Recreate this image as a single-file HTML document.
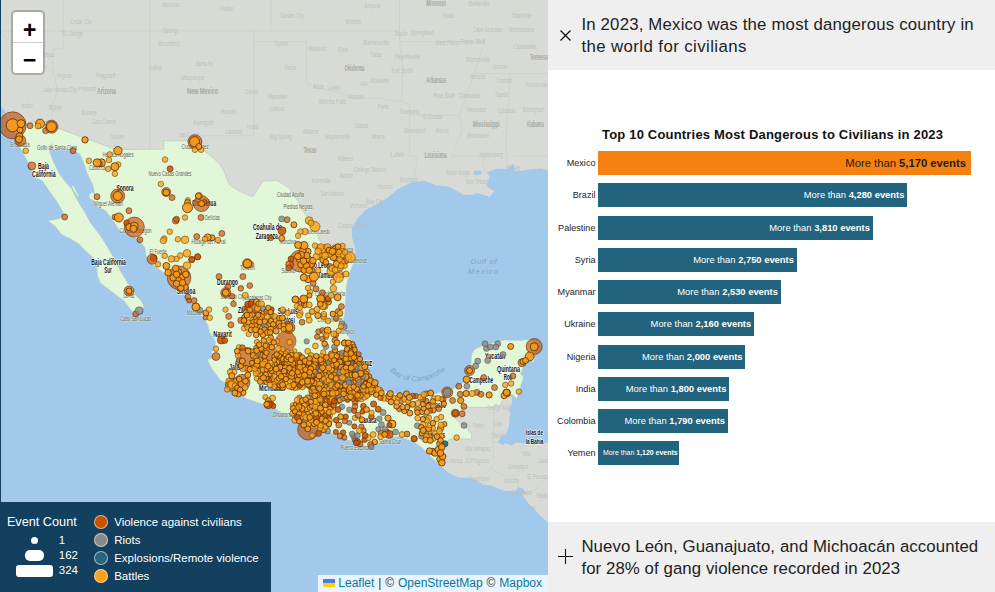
<!DOCTYPE html>
<html lang="en"><head><meta charset="utf-8"><title>Mexico – Conflict Index</title>
<style>
*{box-sizing:border-box;margin:0;padding:0}
html,body{width:995px;height:592px;overflow:hidden;background:#fff;font-family:"Liberation Sans",sans-serif}
#map{position:absolute;left:0;top:0;width:548px;height:592px;background:#a2c8ec;overflow:hidden}
#map svg{position:absolute;left:0;top:0}
#map svg text{font-family:"Liberation Sans",sans-serif}
#map .s{font-weight:bold;fill:#111;stroke:#fff;stroke-opacity:.75;stroke-width:1.6px;paint-order:stroke;stroke-linejoin:round}
#map .u{font-weight:bold;fill:#a4a8a4}
#map .c{fill:#59605a;stroke:#eefbe8;stroke-opacity:.6;stroke-width:1.2px;paint-order:stroke}
#map .f{fill:#bcc0bb}
#map .w{font-style:italic;fill:#86a1c2}
#map circle{stroke-width:.8}
.dv{fill:#c85200;fill-opacity:.66;stroke:#5a2606;stroke-opacity:.72}
.dw{fill:#c85200;fill-opacity:.7;stroke:#6a3410;stroke-opacity:.6}
.dV{fill:#c85200;fill-opacity:.85;stroke:#5a2400;stroke-opacity:.75}
.dr{fill:#8a8a8a;fill-opacity:.8;stroke:#3c3c3c;stroke-opacity:.55}
.de{fill:#1f6480;fill-opacity:.9;stroke:#0c3c50;stroke-opacity:.8}
.dl{fill:#f9a620;fill-opacity:.82;stroke:#6a3f06;stroke-opacity:.72}
.db{fill:#f69a1a;fill-opacity:.93;stroke:#452500;stroke-opacity:.92}
.edge{position:absolute;left:0;top:0;width:1px;height:592px;background:#13405f}
.zoom{position:absolute;left:10.7px;top:10px;width:34px;height:65px;border:2px solid rgba(0,0,0,.22);border-radius:5px;background:#fff;background-clip:padding-box}
.zoom a{display:block;width:30px;height:30px;text-align:center;font:bold 23px/30px "Liberation Mono",monospace;color:#000;text-decoration:none;padding-top:5px;text-indent:4px;overflow:visible}
.zoom a:last-child{padding-top:4px}
.zoom a:first-child{height:31px;border-bottom:1px solid #ccc;border-radius:3px 3px 0 0}
.attr{position:absolute;right:0;bottom:0;height:17px;line-height:17px;padding:0 6px 0 5px;background:rgba(255,255,255,.8);font-size:12px;color:#333;white-space:nowrap;word-spacing:.55px}
.attr a{color:#0078a8;text-decoration:none}
.attr svg{position:static!important;display:inline;width:12px;height:8px;vertical-align:baseline;margin-right:3.4px}
.legend{position:absolute;left:0;top:502px;width:271px;height:90px;background:#13405f;color:#fff;font-size:12px}
.legend .t{position:absolute;left:6.9px;top:13px;font-size:12.7px;line-height:15px}
.legend .n{position:absolute;left:58.8px;font-size:11.5px;line-height:14px}
.legend .w{position:absolute;background:#fff}
.legend .c{position:absolute;left:94px;width:14px;height:14px;border-radius:50%;border:1px solid rgba(255,255,255,.55)}
.legend .l{position:absolute;left:114.2px;font-size:11.5px;line-height:14px;white-space:nowrap}
#side{position:absolute;left:548px;top:0;width:447px;height:592px;background:#fff}
.hd{position:absolute;left:0;width:447px;height:70px;background:#efefef;color:#222;font-size:16.8px;line-height:22px}
.hd p{position:absolute;left:33.4px;top:14px;width:410px;white-space:nowrap}
.hd svg{position:absolute}
#chart{position:absolute;left:0;top:70px;width:447px;height:452px}
#chart h3{position:absolute;left:0;top:56.7px;width:447px;font-size:13px;line-height:16px;font-weight:bold;color:#111;white-space:nowrap;letter-spacing:.19px}
#chart h3 span{position:absolute;left:54px}
.row{position:absolute;left:0;height:24px;width:447px}
.cn{position:absolute;right:399.5px;top:0;line-height:24px;font-size:9.1px;color:#222;white-space:nowrap}
.bar{position:absolute;left:50px;top:0;height:24px;background:#22637d;color:#fff;font-size:9.4px;line-height:24px;text-align:right;white-space:nowrap}
.bar.hl{background:#f58210;color:#1b1b1b;font-size:11.25px}
.bar.sm{font-size:6.98px}
.bar.sm .bl{right:1.3px}
.bl{position:absolute;right:2.6px;top:0}
.bar.hl .bl{right:5px}
</style></head><body>
<div id="map">
<svg width="548" height="592" viewBox="0 0 548 592">
<path d="M-22.3 -24.3 L-22.3 105.0 L-0.6 105.0 L4.6 110.2 L7.5 118.4 L10.1 124.8 L10.1 124.8 L29.8 123.4 L51.8 121.1 L50.1 125.2 L76.4 135.0 L115.8 149.5 L150.1 149.3 L163.9 149.3 L163.9 140.9 L193.8 140.9 L200.2 148.0 L209.0 154.5 L219.3 163.4 L225.0 173.8 L229.3 184.8 L238.3 190.7 L252.6 196.7 L263.5 181.0 L277.7 180.6 L289.8 188.6 L298.5 202.0 L304.5 213.6 L314.8 224.8 L318.6 238.4 L323.4 247.5 L336.9 253.5 L349.2 257.7 L355.9 257.1 L355.9 257.1 L354.9 246.9 L351.9 237.2 L351.9 228.5 L356.6 219.7 L365.3 209.9 L375.6 205.0 L387.8 197.5 L397.3 189.6 L410.2 182.8 L412.8 182.2 L424.1 180.8 L436.2 185.2 L448.3 186.2 L457.0 191.1 L463.9 195.1 L472.5 194.5 L477.7 193.1 L489.8 197.1 L494.2 191.1 L486.4 186.2 L489.8 176.2 L486.4 172.6 L496.7 168.8 L507.1 168.8 L513.2 163.2 L514.9 171.2 L522.7 170.6 L531.3 169.2 L540.0 168.6 L548.6 170.2 L565.9 176.2 L565.9 -24.3Z" fill="#d8dbd5"/>
<path d="M508.9 394.9 L512.3 397.7 L512.0 402.6 L509.0 410.6 L510.6 413.3 L508.9 419.8 L509.9 421.5 L507.8 430.7 L504.5 435.4 L501.4 436.1 L498.0 442.2 L503.7 445.4 L505.1 442.7 L510.1 445.1 L512.0 445.8 L515.8 442.7 L520.6 442.4 L522.4 443.8 L524.9 442.9 L533.1 444.5 L541.0 444.2 L546.6 442.2 L557.3 441.1 L557.3 529.2 L547.6 522.2 L539.5 514.9 L533.4 508.0 L528.4 503.4 L521.7 493.8 L525.8 494.2 L522.9 488.5 L517.7 487.1 L515.8 491.2 L505.7 491.0 L499.5 489.2 L492.2 485.7 L482.7 484.6 L477.7 480.7 L468.9 477.7 L458.2 477.3 L450.2 473.7 L440.9 466.4 L440.9 466.4 L441.4 461.2 L443.3 457.1 L440.9 453.7 L449.2 439.0 L471.5 439.0 L471.8 432.8 L469.1 431.8 L467.2 427.8 L460.8 423.6 L454.4 417.7 L462.1 417.7 L462.1 407.3 L478.2 407.3 L494.3 407.5 L494.2 404.8 L496.2 404.0 L499.3 406.2 L505.6 395.1 L508.9 394.9Z" fill="#d8dbd5"/>
<path d="M355.9 257.1 L349.2 274.0 L346.2 287.7 L344.9 313.0 L343.3 322.2 L346.2 332.2 L351.6 341.4 L355.1 355.6 L366.5 369.5 L370.6 379.9 L377.4 388.9 L395.7 393.8 L402.8 401.5 L418.0 396.4 L431.2 394.6 L444.2 391.3 L455.1 388.0 L466.1 380.7 L470.3 369.8 L471.7 354.3 L474.6 349.0 L486.4 344.2 L504.7 339.9 L519.9 340.4 L530.5 339.0 L534.6 342.9 L533.9 351.8 L524.8 362.7 L520.6 373.9 L523.7 377.2 L521.1 385.1 L516.8 399.3 L512.5 394.6 L508.9 394.9 L505.6 395.1 L499.3 406.2 L496.2 404.0 L494.2 404.8 L494.3 407.5 L478.2 407.3 L462.1 407.3 L462.1 417.7 L454.4 417.7 L460.8 423.6 L467.2 427.8 L469.1 431.8 L471.8 432.8 L471.5 439.0 L449.2 439.0 L440.9 453.7 L443.3 457.1 L441.4 461.2 L440.9 466.4 L421.3 447.1 L412.3 441.3 L398.3 436.6 L388.6 437.9 L374.8 444.7 L366.0 446.5 L353.8 441.7 L340.9 438.2 L324.6 430.0 L311.6 427.4 L292.1 419.1 L277.6 410.4 L273.2 405.5 L263.5 404.4 L245.9 398.8 L238.6 390.4 L220.1 379.9 L211.5 368.4 L207.3 359.5 L213.0 357.7 L211.3 352.3 L215.3 347.5 L215.3 341.2 L209.6 332.8 L208.0 325.3 L202.1 316.0 L186.9 297.1 L169.4 282.4 L164.4 273.3 L156.6 267.5 L150.8 263.6 L146.0 255.8 L145.0 248.0 L139.1 240.3 L128.0 234.0 L118.9 230.0 L115.2 224.0 L111.5 218.5 L105.9 211.0 L98.5 207.3 L92.9 199.9 L94.7 194.3 L92.9 185.0 L87.3 173.9 L83.6 162.7 L79.9 154.4 L74.3 150.7 L61.3 147.9 L53.5 149.2 L51.5 143.5 L49.8 149.5 L50.2 153.4 L53.9 162.7 L59.4 173.9 L65.0 181.3 L71.5 188.7 L76.2 198.0 L81.7 207.3 L87.3 216.6 L90.5 222.8 L96.4 230.5 L102.2 238.3 L108.0 248.0 L113.8 257.8 L117.7 265.5 L121.6 273.3 L125.5 279.1 L127.5 283.0 L133.3 288.8 L135.2 294.7 L141.0 300.5 L144.0 306.3 L141.0 312.2 L135.2 315.1 L131.3 310.2 L123.6 300.5 L115.8 294.7 L108.0 288.8 L100.2 283.0 L97.3 275.2 L96.4 265.5 L94.4 258.7 L86.6 251.9 L78.9 244.1 L71.1 239.3 L61.4 234.4 L55.5 226.7 L47.8 220.8 L59.4 218.5 L64.1 214.7 L61.3 209.2 L55.7 199.9 L50.2 192.5 L42.7 181.3 L35.3 177.6 L30.5 167.9 L24.5 155.8 L16.7 141.5 L18.9 138.8 L11.3 128.5 L10.1 124.8 L29.8 123.4 L51.8 121.1 L50.1 125.2 L76.4 135.0 L115.8 149.5 L150.1 149.3 L163.9 149.3 L163.9 140.9 L193.8 140.9 L200.2 148.0 L209.0 154.5 L219.3 163.4 L225.0 173.8 L229.3 184.8 L238.3 190.7 L252.6 196.7 L263.5 181.0 L277.7 180.6 L289.8 188.6 L298.5 202.0 L304.5 213.6 L314.8 224.8 L318.6 238.4 L323.4 247.5 L336.9 253.5 L349.2 257.7 L355.9 257.1Z" fill="#e2f6d8" stroke="#b9c7bd" stroke-width="0.6"/><path d="M71.5 185.0 L73.8 186.2 L78.4 195.1 L79.5 196.5 L77.2 195.7 L72.9 189.2Z" fill="#e2f6d8" stroke="#b9c7bd" stroke-width=".5"/><path d="M88.8 195.1 L92.8 191.7 L95.4 196.5 L94.0 200.6 L89.9 199.1Z" fill="#e2f6d8" stroke="#b9c7bd" stroke-width=".5"/><path d="M531.7 357.3 L535.8 357.1 L533.4 361.9 L531.0 362.3Z" fill="#e2f6d8" stroke="#b9c7bd" stroke-width=".5"/><path d="M447.8 392.2 L452.6 389.8 L453.5 390.9 L448.3 393.1Z" fill="#e2f6d8" stroke="#b9c7bd" stroke-width=".5"/>
<path d="M0.0 30.8 L399.5 30.8 M149.9 0.0 L149.9 149.5 M253.9 30.8 L253.9 135.8 L191.9 135.8 M254.5 41.6 L306.4 41.6 L306.4 82.9 L320.3 88.3 L339.3 92.5 L354.9 98.8 L375.6 97.7 L401.9 102.1 L409.6 103.9 M399.5 0.0 L399.5 41.6 L402.8 65.1 L401.9 102.1 M409.6 103.9 L409.6 156.1 L418.0 156.1 L415.4 170.2 L412.8 182.2 M409.6 115.3 L459.2 115.3 M484.6 41.6 L474.3 73.6 L459.2 115.3 L462.1 129.7 L451.8 156.1 L484.1 156.1 L482.9 164.2 L486.4 172.6 M399.5 41.6 L484.6 41.6 M474.3 73.6 L565.9 73.6 M510.6 73.6 L505.9 137.9 L507.1 168.8 M514.0 156.1 L565.9 156.1 M63.4 0.0 L63.4 30.8 L63.4 48.1 L52.1 50.2 L53.9 73.6 L57.3 90.4 L52.1 107.1 L51.8 121.1 M0.0 33.0 L53.9 73.6 M271.0 0.0 L271.0 30.8 M494.2 407.5 L492.9 442.0 L498.0 442.2 M492.9 442.0 L494.2 463.5 L490.7 468.6 L477.7 480.7 M490.7 468.6 L505.4 476.4 L518.9 480.0 L517.7 487.1 M525.8 494.2 L536.5 488.5 L546.9 477.8 L565.9 465.3" fill="none" stroke="#cacec9" stroke-width=".7"/>
<ellipse cx="477.3" cy="172.8" rx="4.2" ry="2.2" fill="#a2c8ec"/>
<text class="s" x="38.0" y="168.5" font-size="8.5" textLength="11" lengthAdjust="spacingAndGlyphs">Baja</text>
<text class="s" x="32.0" y="176.8" font-size="8.5" textLength="23.5" lengthAdjust="spacingAndGlyphs">California</text>
<text class="s" x="116.5" y="191.2" font-size="8.5" textLength="17" lengthAdjust="spacingAndGlyphs">Sonora</text>
<text class="s" x="192.0" y="206.0" font-size="8.5" textLength="24" lengthAdjust="spacingAndGlyphs">Chihuahua</text>
<text class="s" x="252.9" y="230.3" font-size="8.5" textLength="29" lengthAdjust="spacingAndGlyphs">Coahuila de</text>
<text class="s" x="255.8" y="238.5" font-size="8.5" textLength="22" lengthAdjust="spacingAndGlyphs">Zaragoza</text>
<text class="s" x="217.0" y="285.0" font-size="8.5" textLength="21" lengthAdjust="spacingAndGlyphs">Durango</text>
<text class="s" x="91.3" y="264.7" font-size="8.5" textLength="34.5" lengthAdjust="spacingAndGlyphs">Baja California</text>
<text class="s" x="104.2" y="272.5" font-size="8.5" textLength="7.5" lengthAdjust="spacingAndGlyphs">Sur</text>
<text class="s" x="213.3" y="337.0" font-size="8.5" textLength="18.5" lengthAdjust="spacingAndGlyphs">Nayarit</text>
<text class="s" x="238.0" y="313.0" font-size="8.5" textLength="24" lengthAdjust="spacingAndGlyphs">Zacatecas</text>
<text class="s" x="277.8" y="314.0" font-size="8.5" textLength="20" lengthAdjust="spacingAndGlyphs">San Luis</text>
<text class="s" x="280.7" y="322.5" font-size="8.5" textLength="14" lengthAdjust="spacingAndGlyphs">Potosí</text>
<text class="s" x="302.5" y="268.0" font-size="8.5" textLength="27" lengthAdjust="spacingAndGlyphs">Nuevo León</text>
<text class="s" x="318.0" y="278.0" font-size="8.5" textLength="26" lengthAdjust="spacingAndGlyphs">Tamaulipas</text>
<text class="s" x="485.0" y="359.3" font-size="8.5" textLength="20" lengthAdjust="spacingAndGlyphs">Yucatán</text>
<text class="s" x="497.0" y="371.5" font-size="8.5" textLength="23" lengthAdjust="spacingAndGlyphs">Quintana</text>
<text class="s" x="503.8" y="379.8" font-size="8.5" textLength="8.5" lengthAdjust="spacingAndGlyphs">Roo</text>
<text class="s" x="469.6" y="383.0" font-size="8.5" textLength="23.5" lengthAdjust="spacingAndGlyphs">Campeche</text>
<text class="s" x="427.0" y="408.0" font-size="8.5" textLength="19" lengthAdjust="spacingAndGlyphs">Tabasco</text>
<text class="s" x="427.0" y="438.0" font-size="8.5" textLength="18" lengthAdjust="spacingAndGlyphs">Chiapas</text>
<text class="s" x="351.0" y="365.7" font-size="8.5" textLength="21" lengthAdjust="spacingAndGlyphs">Veracruz</text>
<text class="s" x="359.5" y="422.6" font-size="8.5" textLength="17" lengthAdjust="spacingAndGlyphs">Oaxaca</text>
<text class="s" x="259.0" y="390.6" font-size="8.5" textLength="26" lengthAdjust="spacingAndGlyphs">Michoacán</text>
<text class="s" x="229.0" y="369.6" font-size="8.5" textLength="18" lengthAdjust="spacingAndGlyphs">Jalisco</text>
<text class="s" x="176.8" y="294.1" font-size="8.5" textLength="18.5" lengthAdjust="spacingAndGlyphs">Sinaloa</text>
<text class="s" x="526.0" y="434.5" font-size="7.8" textLength="17" lengthAdjust="spacingAndGlyphs">Islas de</text>
<text class="s" x="525.8" y="443.5" font-size="7.8" textLength="17.5" lengthAdjust="spacingAndGlyphs">la Bahía</text>
<text class="u" x="97.0" y="94.0" font-size="8.5" textLength="19" lengthAdjust="spacingAndGlyphs">Arizona</text>
<text class="u" x="187.0" y="94.0" font-size="8.5" textLength="31" lengthAdjust="spacingAndGlyphs">New Mexico</text>
<text class="c" x="10.5" y="146.5" font-size="7.5" textLength="19" lengthAdjust="spacingAndGlyphs">Ensenada</text>
<text class="c" x="37.0" y="150.0" font-size="7.5" textLength="40" lengthAdjust="spacingAndGlyphs">Golfo de Santa Clara</text>
<text class="c" x="102.5" y="157.0" font-size="7.5" textLength="31" lengthAdjust="spacingAndGlyphs">Heroica Nogales</text>
<text class="c" x="89.0" y="170.0" font-size="7.5" textLength="16" lengthAdjust="spacingAndGlyphs">Caborca</text>
<text class="c" x="94.0" y="206.0" font-size="7.5" textLength="29" lengthAdjust="spacingAndGlyphs">Miguel Alemán</text>
<text class="c" x="119.5" y="233.0" font-size="7.5" textLength="32" lengthAdjust="spacingAndGlyphs">Ciudad Obregón</text>
<text class="c" x="149.5" y="253.5" font-size="7.5" textLength="17" lengthAdjust="spacingAndGlyphs">El Fuerte</text>
<text class="c" x="120.3" y="321.0" font-size="7.5" textLength="31" lengthAdjust="spacingAndGlyphs">Cabo San Lucas</text>
<text class="c" x="187.0" y="314.5" font-size="7.5" textLength="16" lengthAdjust="spacingAndGlyphs">Mazatlán</text>
<text class="c" x="221.0" y="299.0" font-size="7.5" textLength="24" lengthAdjust="spacingAndGlyphs">Durango City</text>
<text class="c" x="148.5" y="175.5" font-size="7.5" textLength="43" lengthAdjust="spacingAndGlyphs">Nuevo Casas Grandes</text>
<text class="c" x="181.5" y="149.0" font-size="7.5" textLength="27" lengthAdjust="spacingAndGlyphs">Ciudad Juárez</text>
<text class="c" x="205.0" y="219.5" font-size="7.5" textLength="15" lengthAdjust="spacingAndGlyphs">Delicias</text>
<text class="c" x="191.5" y="244.0" font-size="7.5" textLength="34" lengthAdjust="spacingAndGlyphs">Hidalgo del Parral</text>
<text class="c" x="277.0" y="197.0" font-size="7.5" textLength="27" lengthAdjust="spacingAndGlyphs">Ciudad Acuña</text>
<text class="c" x="283.5" y="209.0" font-size="7.5" textLength="29" lengthAdjust="spacingAndGlyphs">Piedras Negras</text>
<text class="c" x="240.0" y="270.0" font-size="7.5" textLength="15" lengthAdjust="spacingAndGlyphs">Torreón</text>
<text class="c" x="281.5" y="273.0" font-size="7.5" textLength="14" lengthAdjust="spacingAndGlyphs">Saltillo</text>
<text class="c" x="279.5" y="244.0" font-size="7.5" textLength="17" lengthAdjust="spacingAndGlyphs">Monclova</text>
<text class="c" x="339.5" y="333.5" font-size="7.5" textLength="15" lengthAdjust="spacingAndGlyphs">Tampico</text>
<text class="c" x="317.5" y="322.0" font-size="7.5" textLength="25" lengthAdjust="spacingAndGlyphs">Ciudad Mante</text>
<text class="c" x="272.5" y="416.5" font-size="7.5" textLength="23" lengthAdjust="spacingAndGlyphs">Zihuatanejo</text>
<text class="c" x="340.5" y="449.5" font-size="7.5" textLength="34" lengthAdjust="spacingAndGlyphs">Puerto Escondido</text>
<text class="c" x="379.0" y="443.5" font-size="7.5" textLength="22" lengthAdjust="spacingAndGlyphs">Salina Cruz</text>
<text class="c" x="244.5" y="300.0" font-size="7.5" textLength="27" lengthAdjust="spacingAndGlyphs">Zacatecas City</text>
<text class="c" x="337.0" y="252.0" font-size="7.5" textLength="16" lengthAdjust="spacingAndGlyphs">Reynosa</text>
<text class="c" x="347.0" y="263.0" font-size="7.5" textLength="20" lengthAdjust="spacingAndGlyphs">Matamoros</text>
<text class="c" x="315.0" y="296.0" font-size="7.5" textLength="30" lengthAdjust="spacingAndGlyphs">Ciudad Victoria</text>
<text class="c" x="123.5" y="298.0" font-size="7.5" textLength="11" lengthAdjust="spacingAndGlyphs">La Paz</text>
<text class="c" x="306.0" y="233.6" font-size="7.5" textLength="24" lengthAdjust="spacingAndGlyphs">Nuevo Laredo</text>
<text class="u" x="344.6" y="70.8" font-size="8.5" textLength="19.8" lengthAdjust="spacingAndGlyphs">Oklahoma</text>
<text class="u" x="426.3" y="82.6" font-size="8.5" textLength="19.8" lengthAdjust="spacingAndGlyphs">Arkansas</text>
<text class="u" x="426.3" y="6.0" font-size="8.5" textLength="19.8" lengthAdjust="spacingAndGlyphs">Missouri</text>
<text class="u" x="303.5" y="153.3" font-size="8.5" textLength="12.8" lengthAdjust="spacingAndGlyphs">Texas</text>
<text class="u" x="424.4" y="158.3" font-size="8.5" textLength="22.2" lengthAdjust="spacingAndGlyphs">Louisiana</text>
<text class="u" x="472.8" y="126.9" font-size="8.5" textLength="26.9" lengthAdjust="spacingAndGlyphs">Mississippi</text>
<text class="u" x="526.5" y="126.6" font-size="8.5" textLength="17.4" lengthAdjust="spacingAndGlyphs">Alabama</text>
<text class="u" x="529.9" y="60.0" font-size="8.5" textLength="22.2" lengthAdjust="spacingAndGlyphs">Tennessee</text>
<text class="f" x="280.2" y="17.8" font-size="7.5" textLength="23.5" lengthAdjust="spacingAndGlyphs">Garden City</text>
<text class="f" x="345.2" y="23.9" font-size="7.5" textLength="15.3" lengthAdjust="spacingAndGlyphs">Wichita</text>
<text class="f" x="364.8" y="8.3" font-size="7.5" textLength="15.3" lengthAdjust="spacingAndGlyphs">Emporia</text>
<text class="f" x="394.4" y="36.4" font-size="7.5" textLength="13.3" lengthAdjust="spacingAndGlyphs">Joplin</text>
<text class="f" x="410.2" y="34.6" font-size="7.5" textLength="23.5" lengthAdjust="spacingAndGlyphs">Springfield</text>
<text class="f" x="442.8" y="17.8" font-size="7.5" textLength="11.2" lengthAdjust="spacingAndGlyphs">Rolla</text>
<text class="f" x="473.0" y="32.3" font-size="7.5" textLength="29.7" lengthAdjust="spacingAndGlyphs">Cape Girardeau</text>
<text class="f" x="435.6" y="44.8" font-size="7.5" textLength="23.5" lengthAdjust="spacingAndGlyphs">West Plains</text>
<text class="f" x="459.9" y="44.2" font-size="7.5" textLength="25.6" lengthAdjust="spacingAndGlyphs">Poplar Bluff</text>
<text class="f" x="363.6" y="44.8" font-size="7.5" textLength="25.6" lengthAdjust="spacingAndGlyphs">Bartlesville</text>
<text class="f" x="274.4" y="45.8" font-size="7.5" textLength="13.3" lengthAdjust="spacingAndGlyphs">Guymon</text>
<text class="f" x="308.6" y="50.9" font-size="7.5" textLength="17.4" lengthAdjust="spacingAndGlyphs">Woodward</text>
<text class="f" x="338.0" y="51.6" font-size="7.5" textLength="9.2" lengthAdjust="spacingAndGlyphs">Enid</text>
<text class="f" x="370.1" y="56.6" font-size="7.5" textLength="11.2" lengthAdjust="spacingAndGlyphs">Tulsa</text>
<text class="f" x="394.7" y="59.0" font-size="7.5" textLength="25.6" lengthAdjust="spacingAndGlyphs">Fayetteville</text>
<text class="f" x="391.6" y="73.2" font-size="7.5" textLength="21.5" lengthAdjust="spacingAndGlyphs">Fort Smith</text>
<text class="f" x="284.7" y="70.2" font-size="7.5" textLength="11.2" lengthAdjust="spacingAndGlyphs">Pampa</text>
<text class="f" x="370.1" y="83.0" font-size="7.5" textLength="19.4" lengthAdjust="spacingAndGlyphs">McAlester</text>
<text class="f" x="360.3" y="86.0" font-size="7.5" textLength="7.1" lengthAdjust="spacingAndGlyphs">Ada</text>
<text class="f" x="312.7" y="89.4" font-size="7.5" textLength="11.2" lengthAdjust="spacingAndGlyphs">Altus</text>
<text class="f" x="327.6" y="89.8" font-size="7.5" textLength="13.3" lengthAdjust="spacingAndGlyphs">Lawton</text>
<text class="f" x="348.5" y="98.9" font-size="7.5" textLength="15.3" lengthAdjust="spacingAndGlyphs">Ardmore</text>
<text class="f" x="318.7" y="104.0" font-size="7.5" textLength="27.6" lengthAdjust="spacingAndGlyphs">Wichita Falls</text>
<text class="f" x="377.6" y="109.0" font-size="7.5" textLength="11.2" lengthAdjust="spacingAndGlyphs">Paris</text>
<text class="f" x="399.5" y="114.1" font-size="7.5" textLength="19.4" lengthAdjust="spacingAndGlyphs">Texarkana</text>
<text class="f" x="423.1" y="119.2" font-size="7.5" textLength="19.4" lengthAdjust="spacingAndGlyphs">El Dorado</text>
<text class="f" x="433.2" y="97.9" font-size="7.5" textLength="21.5" lengthAdjust="spacingAndGlyphs">Pine Bluff</text>
<text class="f" x="470.2" y="78.6" font-size="7.5" textLength="15.3" lengthAdjust="spacingAndGlyphs">Memphis</text>
<text class="f" x="492.1" y="68.5" font-size="7.5" textLength="15.3" lengthAdjust="spacingAndGlyphs">Jackson</text>
<text class="f" x="458.6" y="98.2" font-size="7.5" textLength="21.5" lengthAdjust="spacingAndGlyphs">Clarksdale</text>
<text class="f" x="466.4" y="112.4" font-size="7.5" textLength="19.4" lengthAdjust="spacingAndGlyphs">Greenwood</text>
<text class="f" x="494.8" y="97.2" font-size="7.5" textLength="13.3" lengthAdjust="spacingAndGlyphs">Tupelo</text>
<text class="f" x="497.8" y="113.1" font-size="7.5" textLength="17.4" lengthAdjust="spacingAndGlyphs">Columbus</text>
<text class="f" x="522.8" y="112.4" font-size="7.5" textLength="21.5" lengthAdjust="spacingAndGlyphs">Birmingham</text>
<text class="f" x="526.1" y="87.1" font-size="7.5" textLength="21.5" lengthAdjust="spacingAndGlyphs">Huntsville</text>
<text class="f" x="496.5" y="83.0" font-size="7.5" textLength="15.3" lengthAdjust="spacingAndGlyphs">Corinth</text>
<text class="f" x="355.2" y="127.6" font-size="7.5" textLength="13.3" lengthAdjust="spacingAndGlyphs">Dallas</text>
<text class="f" x="302.9" y="134.4" font-size="7.5" textLength="15.3" lengthAdjust="spacingAndGlyphs">Abilene</text>
<text class="f" x="270.1" y="138.7" font-size="7.5" textLength="21.5" lengthAdjust="spacingAndGlyphs">Big Spring</text>
<text class="f" x="324.8" y="139.4" font-size="7.5" textLength="25.6" lengthAdjust="spacingAndGlyphs">Stephenville</text>
<text class="f" x="371.5" y="139.4" font-size="7.5" textLength="13.3" lengthAdjust="spacingAndGlyphs">Athens</text>
<text class="f" x="403.9" y="132.6" font-size="7.5" textLength="21.5" lengthAdjust="spacingAndGlyphs">Shreveport</text>
<text class="f" x="435.7" y="132.6" font-size="7.5" textLength="13.3" lengthAdjust="spacingAndGlyphs">Monroe</text>
<text class="f" x="467.2" y="138.4" font-size="7.5" textLength="21.5" lengthAdjust="spacingAndGlyphs">Brookhaven</text>
<text class="f" x="390.8" y="157.0" font-size="7.5" textLength="13.3" lengthAdjust="spacingAndGlyphs">Lufkin</text>
<text class="f" x="337.7" y="161.4" font-size="7.5" textLength="15.3" lengthAdjust="spacingAndGlyphs">Killeen</text>
<text class="f" x="353.8" y="171.5" font-size="7.5" textLength="31.7" lengthAdjust="spacingAndGlyphs">College Station</text>
<text class="f" x="339.4" y="178.3" font-size="7.5" textLength="13.3" lengthAdjust="spacingAndGlyphs">Austin</text>
<text class="f" x="311.7" y="183.3" font-size="7.5" textLength="19.4" lengthAdjust="spacingAndGlyphs">Kerrville</text>
<text class="f" x="399.8" y="181.6" font-size="7.5" textLength="17.4" lengthAdjust="spacingAndGlyphs">Beaumont</text>
<text class="f" x="377.2" y="189.1" font-size="7.5" textLength="15.3" lengthAdjust="spacingAndGlyphs">Houston</text>
<text class="f" x="320.8" y="195.8" font-size="7.5" textLength="23.5" lengthAdjust="spacingAndGlyphs">San Antonio</text>
<text class="f" x="479.6" y="157.3" font-size="7.5" textLength="23.5" lengthAdjust="spacingAndGlyphs">Hattiesburg</text>
<text class="f" x="446.8" y="174.9" font-size="7.5" textLength="23.5" lengthAdjust="spacingAndGlyphs">Baton Rouge</text>
<text class="f" x="465.4" y="184.4" font-size="7.5" textLength="23.5" lengthAdjust="spacingAndGlyphs">New Orleans</text>
<text class="f" x="506.6" y="169.8" font-size="7.5" textLength="13.3" lengthAdjust="spacingAndGlyphs">Mobile</text>
<text class="f" x="269.2" y="111.4" font-size="7.5" textLength="15.3" lengthAdjust="spacingAndGlyphs">Lubbock</text>
<text class="f" x="267.7" y="98.9" font-size="7.5" textLength="19.4" lengthAdjust="spacingAndGlyphs">Plainview</text>
<text class="f" x="512.0" y="17.8" font-size="7.5" textLength="19.4" lengthAdjust="spacingAndGlyphs">Nashville</text>
<text class="f" x="508.9" y="32.3" font-size="7.5" textLength="25.6" lengthAdjust="spacingAndGlyphs">Murfreesboro</text>
<text class="f" x="513.2" y="48.9" font-size="7.5" textLength="23.5" lengthAdjust="spacingAndGlyphs">Clarksville</text>
<text class="f" x="466.1" y="61.6" font-size="7.5" textLength="23.5" lengthAdjust="spacingAndGlyphs">Blytheville</text>
<text class="f" x="468.8" y="6.0" font-size="7.5" textLength="21.5" lengthAdjust="spacingAndGlyphs">Belleville</text>
<text class="f" x="338.3" y="227.8" font-size="7.5" textLength="29.7" lengthAdjust="spacingAndGlyphs">Corpus Christi</text>
<text class="f" x="349.5" y="207.6" font-size="7.5" textLength="17.4" lengthAdjust="spacingAndGlyphs">Victoria</text>
<text class="f" x="366.3" y="204.0" font-size="7.5" textLength="17.4" lengthAdjust="spacingAndGlyphs">Bay City</text>
<text class="f" x="70.2" y="24.2" font-size="7.5" textLength="21.5" lengthAdjust="spacingAndGlyphs">Cedar City</text>
<text class="f" x="61.8" y="36.4" font-size="7.5" textLength="21.5" lengthAdjust="spacingAndGlyphs">St. George</text>
<text class="f" x="161.9" y="6.6" font-size="7.5" textLength="17.4" lengthAdjust="spacingAndGlyphs">Montrose</text>
<text class="f" x="220.3" y="11.0" font-size="7.5" textLength="13.3" lengthAdjust="spacingAndGlyphs">Pueblo</text>
<text class="f" x="162.9" y="33.0" font-size="7.5" textLength="15.3" lengthAdjust="spacingAndGlyphs">Durango</text>
<text class="f" x="158.2" y="45.6" font-size="7.5" textLength="21.5" lengthAdjust="spacingAndGlyphs">Bloomfield</text>
<text class="f" x="35.3" y="57.0" font-size="7.5" textLength="19.4" lengthAdjust="spacingAndGlyphs">Las Vegas</text>
<text class="f" x="56.6" y="77.6" font-size="7.5" textLength="15.3" lengthAdjust="spacingAndGlyphs">Kingman</text>
<text class="f" x="96.0" y="77.6" font-size="7.5" textLength="19.4" lengthAdjust="spacingAndGlyphs">Flagstaff</text>
<text class="f" x="148.8" y="70.2" font-size="7.5" textLength="13.3" lengthAdjust="spacingAndGlyphs">Gallup</text>
<text class="f" x="195.7" y="66.1" font-size="7.5" textLength="17.4" lengthAdjust="spacingAndGlyphs">Santa Fe</text>
<text class="f" x="180.8" y="80.3" font-size="7.5" textLength="23.5" lengthAdjust="spacingAndGlyphs">Albuquerque</text>
<text class="f" x="43.2" y="92.1" font-size="7.5" textLength="33.8" lengthAdjust="spacingAndGlyphs">Lake Havasu City</text>
<text class="f" x="78.5" y="91.1" font-size="7.5" textLength="17.4" lengthAdjust="spacingAndGlyphs">Prescott</text>
<text class="f" x="245.0" y="93.8" font-size="7.5" textLength="13.3" lengthAdjust="spacingAndGlyphs">Clovis</text>
<text class="f" x="21.4" y="108.0" font-size="7.5" textLength="11.2" lengthAdjust="spacingAndGlyphs">Indio</text>
<text class="f" x="48.4" y="110.0" font-size="7.5" textLength="13.3" lengthAdjust="spacingAndGlyphs">Blythe</text>
<text class="f" x="81.8" y="115.1" font-size="7.5" textLength="15.3" lengthAdjust="spacingAndGlyphs">Buckeye</text>
<text class="f" x="92.2" y="124.2" font-size="7.5" textLength="23.5" lengthAdjust="spacingAndGlyphs">Casa Grande</text>
<text class="f" x="221.0" y="114.1" font-size="7.5" textLength="15.3" lengthAdjust="spacingAndGlyphs">Roswell</text>
<text class="f" x="192.9" y="124.9" font-size="7.5" textLength="21.5" lengthAdjust="spacingAndGlyphs">Alamogordo</text>
<text class="f" x="247.1" y="129.3" font-size="7.5" textLength="11.2" lengthAdjust="spacingAndGlyphs">Hobbs</text>
<text class="f" x="225.1" y="134.4" font-size="7.5" textLength="17.4" lengthAdjust="spacingAndGlyphs">Carlsbad</text>
<text class="f" x="110.5" y="139.4" font-size="7.5" textLength="13.3" lengthAdjust="spacingAndGlyphs">Tucson</text>
<text class="f" x="178.4" y="137.1" font-size="7.5" textLength="21.5" lengthAdjust="spacingAndGlyphs">Las Cruces</text>
<text class="f" x="487.2" y="409.6" font-size="7.5" textLength="23.5" lengthAdjust="spacingAndGlyphs">Orange Walk</text>
<text class="f" x="472.9" y="427.6" font-size="7.5" textLength="11.2" lengthAdjust="spacingAndGlyphs">Petén</text>
<text class="f" x="493.7" y="425.6" font-size="7.5" textLength="9.2" lengthAdjust="spacingAndGlyphs">Cayo</text>
<text class="f" x="491.9" y="438.1" font-size="7.5" textLength="13.3" lengthAdjust="spacingAndGlyphs">Toledo</text>
<text class="f" x="464.7" y="450.6" font-size="7.5" textLength="25.6" lengthAdjust="spacingAndGlyphs">Alta Verapaz</text>
<text class="f" x="465.8" y="462.6" font-size="7.5" textLength="23.5" lengthAdjust="spacingAndGlyphs">El Progreso</text>
<text class="f" x="521.4" y="455.6" font-size="7.5" textLength="9.2" lengthAdjust="spacingAndGlyphs">Yoro</text>
<text class="f" x="508.3" y="468.6" font-size="7.5" textLength="19.4" lengthAdjust="spacingAndGlyphs">Comayagua</text>
<text class="f" x="441.2" y="462.6" font-size="7.5" textLength="21.5" lengthAdjust="spacingAndGlyphs">San Marcos</text>
<text class="f" x="527.2" y="479.1" font-size="7.5" textLength="21.5" lengthAdjust="spacingAndGlyphs">El Paraíso</text>
<text class="f" x="537.4" y="462.6" font-size="7.5" textLength="15.3" lengthAdjust="spacingAndGlyphs">Olancho</text>
<text class="f" x="468.4" y="481.4" font-size="7.5" textLength="21.5" lengthAdjust="spacingAndGlyphs">Ahuachapán</text>
<text class="f" x="504.0" y="482.7" font-size="7.5" textLength="15.3" lengthAdjust="spacingAndGlyphs">Morazán</text>
<text class="f" x="511.7" y="495.0" font-size="7.5" textLength="19.4" lengthAdjust="spacingAndGlyphs">Choluteca</text>
<text class="f" x="526.5" y="509.6" font-size="7.5" textLength="9.2" lengthAdjust="spacingAndGlyphs">León</text>
<text class="f" x="536.4" y="497.6" font-size="7.5" textLength="13.3" lengthAdjust="spacingAndGlyphs">Madriz</text>
<text class="w" x="470.5" y="263.5" font-size="7.5" textLength="26" lengthAdjust="spacing">Gulf of</text>
<text class="w" x="468" y="273.5" font-size="7.5" textLength="30" lengthAdjust="spacing">Mexico</text>
<path id="boc" d="M389 370.5 Q414.75 392.5 447.5 369.5" fill="none"/><text class="w" font-size="7.5"><textPath href="#boc" startOffset="1" textLength="61" lengthAdjust="spacing">Bay of Campeche</textPath></text>
<circle class="dv" cx="12.7" cy="125.3" r="13.5"/><circle class="dv" cx="179.1" cy="277.8" r="11.8"/><circle class="dv" cx="300.5" cy="261.0" r="11.0"/><circle class="dv" cx="308.2" cy="429.5" r="10.5"/><circle class="dv" cx="134.3" cy="227.1" r="10.0"/><circle class="dv" cx="247.1" cy="357.5" r="10.0"/><circle class="dw" cx="286.0" cy="341.0" r="10.0"/><circle class="dl" cx="336.8" cy="253.0" r="8.5"/><circle class="dv" cx="201.5" cy="203.6" r="8.0"/><circle class="dv" cx="242.0" cy="382.3" r="8.0"/><circle class="dv" cx="534.2" cy="346.5" r="8.0"/><circle class="dw" cx="268.2" cy="353.7" r="7.6"/><circle class="dv" cx="117.7" cy="196.0" r="7.0"/><circle class="dv" cx="194.9" cy="141.7" r="7.0"/><circle class="dv" cx="51.5" cy="126.7" r="6.5"/><circle class="dv" cx="231.9" cy="384.8" r="6.5"/><circle class="dv" cx="288.9" cy="327.5" r="6.0"/><circle class="dv" cx="254.7" cy="308.0" r="6.0"/><circle class="dv" cx="20.3" cy="140.5" r="5.5"/><circle class="dv" cx="447.2" cy="392.4" r="5.5"/><circle class="dv" cx="286.9" cy="371.4" r="2.8"/><circle class="dv" cx="295.6" cy="299.5" r="2.7"/><circle class="dv" cx="271.5" cy="315.0" r="2.9"/><circle class="dv" cx="360.0" cy="444.0" r="3.0"/><circle class="dv" cx="336.0" cy="366.6" r="3.0"/><circle class="dv" cx="294.5" cy="378.8" r="3.0"/><circle class="dv" cx="318.3" cy="365.5" r="2.7"/><circle class="dv" cx="326.9" cy="365.9" r="2.9"/><circle class="dv" cx="271.0" cy="238.0" r="2.6"/><circle class="dv" cx="30.0" cy="125.7" r="3.0"/><circle class="dv" cx="417.5" cy="409.5" r="3.1"/><circle class="dv" cx="324.0" cy="357.5" r="2.9"/><circle class="dv" cx="354.0" cy="361.1" r="2.8"/><circle class="dv" cx="494.5" cy="387.6" r="3.0"/><circle class="dv" cx="407.0" cy="434.0" r="3.0"/><circle class="dv" cx="352.6" cy="365.6" r="2.7"/><circle class="dv" cx="312.3" cy="393.3" r="3.0"/><circle class="dv" cx="381.0" cy="433.0" r="3.0"/><circle class="dv" cx="289.7" cy="264.5" r="4.0"/><circle class="dv" cx="414.3" cy="439.0" r="3.0"/><circle class="dv" cx="469.6" cy="370.5" r="5.0"/><circle class="dv" cx="522.0" cy="362.7" r="4.0"/><circle class="dv" cx="244.6" cy="309.0" r="2.8"/><circle class="dv" cx="361.5" cy="426.7" r="2.7"/><circle class="dv" cx="316.0" cy="288.9" r="3.0"/><circle class="dV" cx="271.0" cy="404.0" r="3.0"/><circle class="dV" cx="386.5" cy="432.5" r="3.5"/><circle class="dv" cx="344.3" cy="437.5" r="2.7"/><circle class="dv" cx="281.6" cy="364.8" r="2.7"/><circle class="dv" cx="361.1" cy="392.7" r="2.7"/><circle class="dV" cx="341.4" cy="359.2" r="3.1"/><circle class="dv" cx="280.7" cy="370.3" r="3.0"/><circle class="dV" cx="329.2" cy="357.5" r="3.0"/><circle class="dv" cx="249.8" cy="285.6" r="2.9"/><circle class="dv" cx="64.7" cy="217.0" r="3.0"/><circle class="dv" cx="267.5" cy="321.0" r="2.8"/><circle class="dv" cx="399.2" cy="409.1" r="2.7"/><circle class="dV" cx="343.1" cy="432.5" r="2.7"/><circle class="dV" cx="312.6" cy="362.2" r="2.8"/><circle class="dv" cx="45.6" cy="130.7" r="3.0"/><circle class="dV" cx="299.3" cy="382.8" r="2.8"/><circle class="dv" cx="455.3" cy="413.2" r="4.0"/><circle class="dV" cx="126.7" cy="222.9" r="3.0"/><circle class="dv" cx="355.2" cy="402.3" r="2.8"/><circle class="dV" cx="296.5" cy="363.0" r="2.8"/><circle class="dV" cx="315.0" cy="376.5" r="2.6"/><circle class="dr" cx="313.6" cy="398.0" r="2.7"/><circle class="dv" cx="115.0" cy="217.0" r="3.0"/><circle class="dv" cx="314.1" cy="378.9" r="2.9"/><circle class="dr" cx="342.0" cy="323.7" r="3.0"/><circle class="dr" cx="368.9" cy="387.7" r="2.8"/><circle class="dv" cx="330.0" cy="266.5" r="3.0"/><circle class="dr" cx="294.6" cy="415.2" r="3.0"/><circle class="dv" cx="303.0" cy="372.4" r="2.8"/><circle class="dr" cx="307.8" cy="366.1" r="2.7"/><circle class="dv" cx="227.9" cy="286.8" r="3.0"/><circle class="dV" cx="371.4" cy="416.8" r="2.8"/><circle class="dv" cx="129.0" cy="291.0" r="5.0"/><circle class="dV" cx="153.5" cy="258.0" r="3.5"/><circle class="dv" cx="425.9" cy="401.0" r="3.0"/><circle class="dv" cx="288.8" cy="267.8" r="3.0"/><circle class="dV" cx="299.5" cy="355.1" r="2.7"/><circle class="dr" cx="345.8" cy="356.4" r="3.0"/><circle class="dv" cx="197.7" cy="256.7" r="3.0"/><circle class="dv" cx="335.9" cy="334.7" r="2.8"/><circle class="dv" cx="344.8" cy="342.8" r="3.0"/><circle class="dV" cx="355.0" cy="439.5" r="3.0"/><circle class="dr" cx="304.9" cy="421.0" r="3.0"/><circle class="dv" cx="268.2" cy="329.6" r="2.8"/><circle class="dv" cx="175.7" cy="220.7" r="3.3"/><circle class="dv" cx="328.8" cy="405.2" r="3.0"/><circle class="dv" cx="287.1" cy="219.7" r="3.0"/><circle class="dv" cx="233.5" cy="303.9" r="2.8"/><circle class="dV" cx="362.6" cy="411.6" r="2.6"/><circle class="dr" cx="323.2" cy="424.7" r="2.7"/><circle class="dr" cx="359.1" cy="360.0" r="2.9"/><circle class="dr" cx="426.5" cy="415.9" r="2.8"/><circle class="dr" cx="486.4" cy="348.4" r="3.0"/><circle class="dr" cx="316.9" cy="389.0" r="2.6"/><circle class="dv" cx="356.4" cy="363.2" r="2.9"/><circle class="dr" cx="327.6" cy="371.1" r="3.0"/><circle class="dv" cx="364.2" cy="379.5" r="2.6"/><circle class="dv" cx="458.8" cy="386.2" r="3.0"/><circle class="dv" cx="336.2" cy="318.5" r="2.7"/><circle class="dv" cx="135.8" cy="313.8" r="3.0"/><circle class="dv" cx="483.7" cy="377.6" r="3.0"/><circle class="dr" cx="324.3" cy="396.7" r="2.9"/><circle class="dv" cx="363.4" cy="430.5" r="2.8"/><circle class="dr" cx="339.8" cy="369.4" r="2.8"/><circle class="dV" cx="348.4" cy="355.6" r="2.8"/><circle class="dr" cx="306.7" cy="341.4" r="2.7"/><circle class="dr" cx="383.0" cy="412.4" r="3.1"/><circle class="dv" cx="341.4" cy="306.6" r="3.0"/><circle class="dr" cx="327.6" cy="431.1" r="3.0"/><circle class="dv" cx="313.1" cy="283.4" r="3.0"/><circle class="dv" cx="152.1" cy="259.2" r="5.0"/><circle class="dV" cx="373.6" cy="404.0" r="3.1"/><circle class="dv" cx="216.0" cy="356.5" r="4.0"/><circle class="dV" cx="307.2" cy="403.1" r="2.7"/><circle class="dv" cx="312.2" cy="270.8" r="3.0"/><circle class="dv" cx="247.6" cy="306.9" r="2.8"/><circle class="dv" cx="462.1" cy="413.8" r="3.0"/><circle class="dr" cx="379.4" cy="418.7" r="2.8"/><circle class="dr" cx="319.8" cy="393.2" r="2.7"/><circle class="dv" cx="422.9" cy="398.9" r="3.1"/><circle class="dv" cx="205.6" cy="317.5" r="2.5"/><circle class="dv" cx="452.6" cy="400.5" r="3.0"/><circle class="dV" cx="321.4" cy="414.4" r="2.8"/><circle class="dV" cx="325.2" cy="399.4" r="3.0"/><circle class="dv" cx="204.5" cy="202.0" r="2.6"/><circle class="dv" cx="259.7" cy="365.8" r="2.8"/><circle class="dv" cx="302.1" cy="322.2" r="2.9"/><circle class="dv" cx="166.2" cy="192.0" r="4.5"/><circle class="dV" cx="354.4" cy="426.4" r="2.6"/><circle class="dv" cx="335.0" cy="340.2" r="3.1"/><circle class="dr" cx="349.3" cy="409.8" r="2.8"/><circle class="dr" cx="447.2" cy="392.4" r="4.0"/><circle class="dv" cx="187.8" cy="296.9" r="3.0"/><circle class="dv" cx="476.9" cy="392.4" r="3.0"/><circle class="dv" cx="355.0" cy="406.4" r="2.9"/><circle class="dv" cx="414.0" cy="438.4" r="3.0"/><circle class="dv" cx="309.4" cy="362.0" r="3.0"/><circle class="dV" cx="321.2" cy="365.4" r="3.0"/><circle class="dv" cx="242.9" cy="276.6" r="3.0"/><circle class="dr" cx="466.9" cy="386.2" r="3.0"/><circle class="dv" cx="31.8" cy="165.9" r="4.0"/><circle class="dv" cx="73.0" cy="150.7" r="3.0"/><circle class="dv" cx="331.0" cy="353.5" r="2.6"/><circle class="dr" cx="378.4" cy="429.2" r="2.7"/><circle class="dr" cx="361.1" cy="387.9" r="2.6"/><circle class="dr" cx="349.3" cy="422.7" r="2.6"/><circle class="dr" cx="317.8" cy="369.9" r="2.9"/><circle class="dv" cx="463.9" cy="406.5" r="3.0"/><circle class="dr" cx="350.7" cy="363.7" r="3.0"/><circle class="dV" cx="291.0" cy="259.0" r="3.0"/><circle class="dv" cx="269.6" cy="376.6" r="3.0"/><circle class="dl" cx="310.0" cy="291.9" r="2.8"/><circle class="dv" cx="338.1" cy="311.4" r="2.8"/><circle class="dl" cx="252.1" cy="351.8" r="2.9"/><circle class="dv" cx="201.0" cy="217.5" r="3.0"/><circle class="dl" cx="384.1" cy="398.2" r="3.1"/><circle class="dl" cx="321.4" cy="399.2" r="2.7"/><circle class="dl" cx="216.0" cy="348.8" r="2.8"/><circle class="dr" cx="315.5" cy="367.8" r="2.7"/><circle class="dv" cx="304.6" cy="303.7" r="3.0"/><circle class="dV" cx="357.2" cy="398.9" r="2.6"/><circle class="dl" cx="234.3" cy="372.0" r="2.8"/><circle class="dv" cx="189.0" cy="300.6" r="2.5"/><circle class="dl" cx="329.7" cy="399.3" r="3.1"/><circle class="dr" cx="343.5" cy="365.8" r="2.7"/><circle class="dl" cx="441.2" cy="436.1" r="2.9"/><circle class="dv" cx="401.0" cy="401.2" r="2.7"/><circle class="dl" cx="305.3" cy="384.8" r="3.0"/><circle class="dr" cx="325.9" cy="346.5" r="3.0"/><circle class="dv" cx="240.8" cy="288.4" r="2.8"/><circle class="dl" cx="368.7" cy="393.9" r="3.0"/><circle class="dl" cx="331.2" cy="360.7" r="2.9"/><circle class="dv" cx="506.6" cy="393.0" r="4.0"/><circle class="dl" cx="308.5" cy="365.8" r="2.7"/><circle class="dl" cx="292.7" cy="381.5" r="2.9"/><circle class="dl" cx="176.5" cy="258.9" r="2.8"/><circle class="dl" cx="402.0" cy="434.5" r="3.0"/><circle class="dl" cx="187.0" cy="253.3" r="3.8"/><circle class="dl" cx="329.7" cy="415.4" r="2.8"/><circle class="dl" cx="320.9" cy="390.8" r="2.8"/><circle class="dl" cx="366.7" cy="381.6" r="2.9"/><circle class="dl" cx="309.1" cy="378.1" r="2.7"/><circle class="dv" cx="358.5" cy="354.4" r="2.8"/><circle class="dv" cx="330.8" cy="388.0" r="3.1"/><circle class="dl" cx="404.4" cy="399.4" r="2.8"/><circle class="dl" cx="251.1" cy="264.5" r="2.8"/><circle class="dl" cx="287.2" cy="352.2" r="2.8"/><circle class="dV" cx="170.1" cy="168.8" r="3.0"/><circle class="dl" cx="108.1" cy="168.9" r="2.8"/><circle class="dl" cx="312.2" cy="311.6" r="2.8"/><circle class="dl" cx="281.5" cy="359.8" r="2.8"/><circle class="dv" cx="197.6" cy="256.9" r="3.0"/><circle class="dV" cx="273.3" cy="405.9" r="2.6"/><circle class="dr" cx="352.6" cy="398.0" r="2.9"/><circle class="dr" cx="362.2" cy="384.0" r="3.1"/><circle class="dl" cx="297.7" cy="360.6" r="3.0"/><circle class="dr" cx="353.5" cy="390.2" r="2.9"/><circle class="dl" cx="428.9" cy="432.3" r="3.0"/><circle class="dv" cx="176.5" cy="219.2" r="3.0"/><circle class="dl" cx="322.1" cy="253.1" r="2.7"/><circle class="dl" cx="361.1" cy="364.9" r="2.8"/><circle class="dl" cx="325.2" cy="246.9" r="2.6"/><circle class="dr" cx="341.9" cy="406.8" r="2.9"/><circle class="dr" cx="497.7" cy="343.8" r="3.0"/><circle class="dr" cx="495.8" cy="347.0" r="3.0"/><circle class="dl" cx="263.4" cy="381.2" r="3.0"/><circle class="dl" cx="423.2" cy="424.3" r="2.8"/><circle class="dl" cx="328.7" cy="360.2" r="2.6"/><circle class="dl" cx="199.1" cy="195.8" r="3.3"/><circle class="dV" cx="341.9" cy="396.0" r="3.0"/><circle class="dv" cx="267.1" cy="363.4" r="2.8"/><circle class="dv" cx="460.2" cy="394.3" r="3.0"/><circle class="dl" cx="366.7" cy="371.5" r="2.7"/><circle class="dl" cx="244.2" cy="328.3" r="2.9"/><circle class="dl" cx="354.9" cy="417.9" r="2.7"/><circle class="dl" cx="262.7" cy="358.1" r="2.7"/><circle class="dl" cx="335.5" cy="398.3" r="3.1"/><circle class="dl" cx="338.7" cy="330.8" r="2.7"/><circle class="dv" cx="346.7" cy="394.0" r="3.1"/><circle class="dv" cx="247.4" cy="263.6" r="4.8"/><circle class="dr" cx="352.6" cy="379.6" r="2.9"/><circle class="dl" cx="239.2" cy="347.6" r="3.0"/><circle class="dv" cx="240.9" cy="320.4" r="3.1"/><circle class="dl" cx="417.7" cy="418.2" r="2.9"/><circle class="dl" cx="340.1" cy="267.4" r="3.4"/><circle class="dr" cx="359.7" cy="376.6" r="2.7"/><circle class="dr" cx="334.2" cy="384.2" r="2.7"/><circle class="dl" cx="371.5" cy="412.8" r="2.7"/><circle class="dv" cx="219.0" cy="276.6" r="3.0"/><circle class="dr" cx="503.1" cy="354.6" r="3.0"/><circle class="dl" cx="330.8" cy="271.6" r="4.0"/><circle class="dV" cx="329.7" cy="401.8" r="2.9"/><circle class="dl" cx="297.4" cy="387.3" r="2.8"/><circle class="dl" cx="275.3" cy="371.7" r="2.8"/><circle class="dl" cx="187.8" cy="200.0" r="2.5"/><circle class="dr" cx="475.6" cy="365.9" r="3.0"/><circle class="dl" cx="394.0" cy="398.2" r="2.9"/><circle class="dV" cx="340.5" cy="389.1" r="2.7"/><circle class="dl" cx="228.8" cy="381.1" r="3.0"/><circle class="dl" cx="258.8" cy="328.1" r="3.0"/><circle class="dv" cx="194.1" cy="300.6" r="3.0"/><circle class="dv" cx="338.8" cy="425.0" r="3.0"/><circle class="dl" cx="109.8" cy="154.4" r="2.8"/><circle class="dV" cx="336.2" cy="420.2" r="2.8"/><circle class="dr" cx="464.0" cy="425.4" r="3.0"/><circle class="dl" cx="328.5" cy="386.2" r="3.0"/><circle class="dl" cx="328.1" cy="417.7" r="2.9"/><circle class="dr" cx="425.7" cy="432.4" r="2.9"/><circle class="dr" cx="305.0" cy="412.1" r="3.0"/><circle class="dl" cx="331.7" cy="373.3" r="2.6"/><circle class="dV" cx="271.5" cy="309.5" r="2.7"/><circle class="dl" cx="380.7" cy="436.7" r="3.0"/><circle class="dl" cx="326.9" cy="388.9" r="2.9"/><circle class="dl" cx="341.8" cy="254.7" r="3.4"/><circle class="db" cx="235.5" cy="381.4" r="2.9"/><circle class="dl" cx="323.2" cy="381.8" r="2.7"/><circle class="db" cx="344.8" cy="363.1" r="2.6"/><circle class="dl" cx="294.7" cy="420.4" r="2.9"/><circle class="dl" cx="339.9" cy="313.9" r="2.8"/><circle class="db" cx="440.5" cy="428.5" r="3.1"/><circle class="db" cx="359.7" cy="379.4" r="3.3"/><circle class="dr" cx="262.7" cy="308.1" r="2.9"/><circle class="dl" cx="334.4" cy="395.8" r="2.7"/><circle class="dv" cx="278.2" cy="386.8" r="3.0"/><circle class="dl" cx="283.1" cy="356.9" r="3.0"/><circle class="dl" cx="373.1" cy="434.6" r="3.0"/><circle class="db" cx="327.8" cy="377.5" r="3.0"/><circle class="db" cx="40.0" cy="123.6" r="4.5"/><circle class="dl" cx="317.7" cy="404.7" r="3.0"/><circle class="dl" cx="436.7" cy="419.1" r="2.8"/><circle class="dl" cx="275.8" cy="320.3" r="3.1"/><circle class="dV" cx="221.3" cy="340.0" r="4.0"/><circle class="db" cx="361.9" cy="419.7" r="2.9"/><circle class="db" cx="281.7" cy="238.3" r="3.0"/><circle class="dl" cx="428.8" cy="417.8" r="2.8"/><circle class="dl" cx="337.6" cy="255.6" r="3.4"/><circle class="db" cx="335.6" cy="258.5" r="2.7"/><circle class="db" cx="308.5" cy="259.3" r="3.3"/><circle class="dl" cx="258.8" cy="356.6" r="2.7"/><circle class="dv" cx="443.1" cy="399.7" r="3.0"/><circle class="db" cx="307.8" cy="371.5" r="2.7"/><circle class="dl" cx="312.1" cy="435.4" r="2.7"/><circle class="dl" cx="265.3" cy="397.2" r="2.6"/><circle class="dr" cx="365.5" cy="392.3" r="3.0"/><circle class="db" cx="428.2" cy="406.3" r="2.7"/><circle class="db" cx="317.3" cy="399.3" r="3.1"/><circle class="db" cx="117.7" cy="196.0" r="4.5"/><circle class="db" cx="185.0" cy="287.1" r="3.3"/><circle class="dV" cx="328.0" cy="417.0" r="2.7"/><circle class="dV" cx="347.5" cy="399.8" r="2.7"/><circle class="dl" cx="332.1" cy="268.4" r="3.1"/><circle class="dV" cx="331.3" cy="382.0" r="2.8"/><circle class="dv" cx="455.3" cy="413.2" r="3.0"/><circle class="db" cx="274.3" cy="327.9" r="2.6"/><circle class="db" cx="328.7" cy="395.7" r="2.8"/><circle class="dV" cx="345.6" cy="416.8" r="2.8"/><circle class="db" cx="328.4" cy="373.5" r="3.1"/><circle class="dl" cx="230.0" cy="383.7" r="2.8"/><circle class="db" cx="181.6" cy="277.8" r="3.3"/><circle class="dl" cx="272.5" cy="398.2" r="3.1"/><circle class="dl" cx="257.3" cy="364.2" r="3.0"/><circle class="db" cx="318.9" cy="397.9" r="2.6"/><circle class="dv" cx="329.9" cy="393.4" r="3.0"/><circle class="dv" cx="438.7" cy="408.7" r="2.9"/><circle class="db" cx="303.7" cy="299.7" r="3.5"/><circle class="dv" cx="191.7" cy="259.4" r="3.0"/><circle class="dV" cx="224.7" cy="340.5" r="3.0"/><circle class="db" cx="374.7" cy="442.0" r="2.8"/><circle class="db" cx="374.6" cy="387.0" r="3.3"/><circle class="db" cx="353.3" cy="382.3" r="2.9"/><circle class="dv" cx="191.8" cy="259.7" r="3.0"/><circle class="dV" cx="297.3" cy="368.6" r="3.0"/><circle class="dr" cx="421.5" cy="436.3" r="2.9"/><circle class="db" cx="332.8" cy="313.9" r="2.8"/><circle class="dv" cx="225.8" cy="292.7" r="5.0"/><circle class="db" cx="534.2" cy="346.8" r="4.0"/><circle class="dl" cx="334.2" cy="390.7" r="2.7"/><circle class="dr" cx="361.9" cy="373.6" r="2.7"/><circle class="dv" cx="267.0" cy="372.1" r="2.7"/><circle class="dl" cx="300.4" cy="313.0" r="2.8"/><circle class="dv" cx="337.7" cy="388.8" r="2.8"/><circle class="dv" cx="337.5" cy="359.6" r="2.7"/><circle class="dl" cx="294.5" cy="351.3" r="2.6"/><circle class="dl" cx="332.2" cy="399.3" r="3.0"/><circle class="db" cx="129.3" cy="227.1" r="3.5"/><circle class="dv" cx="317.1" cy="336.7" r="2.7"/><circle class="db" cx="376.2" cy="394.4" r="3.0"/><circle class="dl" cx="264.0" cy="314.1" r="3.0"/><circle class="db" cx="523.0" cy="361.5" r="3.0"/><circle class="dl" cx="293.2" cy="405.5" r="2.9"/><circle class="dv" cx="416.0" cy="396.1" r="2.6"/><circle class="dv" cx="251.5" cy="301.9" r="2.8"/><circle class="db" cx="357.8" cy="372.9" r="2.7"/><circle class="db" cx="504.0" cy="395.7" r="3.0"/><circle class="dl" cx="291.5" cy="353.4" r="3.0"/><circle class="dl" cx="274.8" cy="316.4" r="2.8"/><circle class="db" cx="352.9" cy="398.7" r="2.7"/><circle class="db" cx="178.2" cy="280.3" r="3.3"/><circle class="db" cx="355.8" cy="358.4" r="2.9"/><circle class="db" cx="355.7" cy="381.8" r="2.8"/><circle class="db" cx="302.1" cy="411.5" r="2.8"/><circle class="db" cx="369.0" cy="376.7" r="2.9"/><circle class="dv" cx="337.2" cy="398.6" r="2.7"/><circle class="db" cx="406.5" cy="393.9" r="3.0"/><circle class="db" cx="261.5" cy="316.6" r="3.0"/><circle class="dl" cx="350.4" cy="372.8" r="2.7"/><circle class="dl" cx="315.0" cy="226.5" r="5.0"/><circle class="dV" cx="247.8" cy="304.2" r="3.1"/><circle class="dV" cx="345.9" cy="375.1" r="2.8"/><circle class="db" cx="315.0" cy="363.4" r="2.7"/><circle class="db" cx="253.4" cy="355.5" r="3.1"/><circle class="dV" cx="389.2" cy="434.3" r="4.0"/><circle class="db" cx="328.7" cy="302.0" r="2.8"/><circle class="db" cx="259.8" cy="360.3" r="2.8"/><circle class="dV" cx="364.6" cy="439.7" r="2.8"/><circle class="dr" cx="367.3" cy="378.6" r="2.9"/><circle class="db" cx="262.1" cy="328.1" r="2.9"/><circle class="db" cx="341.3" cy="364.2" r="2.6"/><circle class="dv" cx="228.7" cy="316.4" r="3.0"/><circle class="db" cx="307.8" cy="397.6" r="2.7"/><circle class="dl" cx="323.3" cy="352.4" r="2.7"/><circle class="db" cx="432.9" cy="451.6" r="3.3"/><circle class="dV" cx="369.2" cy="381.3" r="2.9"/><circle class="dl" cx="332.0" cy="355.7" r="3.0"/><circle class="db" cx="341.3" cy="367.0" r="3.0"/><circle class="db" cx="365.6" cy="373.7" r="2.8"/><circle class="db" cx="278.3" cy="358.3" r="3.0"/><circle class="db" cx="246.4" cy="368.3" r="2.9"/><circle class="db" cx="296.2" cy="383.6" r="2.7"/><circle class="dr" cx="490.4" cy="347.0" r="3.0"/><circle class="db" cx="266.8" cy="381.8" r="3.0"/><circle class="dl" cx="292.5" cy="413.4" r="2.7"/><circle class="dl" cx="324.7" cy="401.6" r="2.7"/><circle class="dr" cx="271.6" cy="374.6" r="2.7"/><circle class="dl" cx="318.6" cy="247.6" r="2.8"/><circle class="dl" cx="282.7" cy="309.6" r="2.8"/><circle class="db" cx="293.0" cy="367.1" r="2.8"/><circle class="db" cx="439.9" cy="443.8" r="3.3"/><circle class="db" cx="361.2" cy="380.8" r="2.8"/><circle class="db" cx="529.6" cy="356.5" r="4.5"/><circle class="dl" cx="158.0" cy="264.3" r="2.8"/><circle class="dl" cx="253.6" cy="319.8" r="3.1"/><circle class="db" cx="316.4" cy="386.4" r="2.7"/><circle class="dl" cx="345.1" cy="252.2" r="2.9"/><circle class="dl" cx="262.5" cy="374.1" r="2.9"/><circle class="dl" cx="324.2" cy="305.9" r="3.8"/><circle class="dv" cx="139.9" cy="239.8" r="3.0"/><circle class="dv" cx="481.0" cy="394.3" r="3.0"/><circle class="dl" cx="114.9" cy="173.8" r="2.8"/><circle class="db" cx="353.9" cy="354.0" r="2.8"/><circle class="dl" cx="313.4" cy="369.3" r="2.8"/><circle class="dv" cx="311.0" cy="365.0" r="3.1"/><circle class="dr" cx="276.6" cy="365.7" r="2.8"/><circle class="db" cx="291.4" cy="355.4" r="3.1"/><circle class="db" cx="392.0" cy="424.0" r="4.0"/><circle class="dl" cx="352.2" cy="370.9" r="3.0"/><circle class="db" cx="433.3" cy="410.1" r="2.9"/><circle class="db" cx="304.4" cy="304.9" r="3.0"/><circle class="db" cx="265.0" cy="361.4" r="2.9"/><circle class="dl" cx="254.6" cy="368.6" r="2.7"/><circle class="dl" cx="285.3" cy="354.2" r="3.1"/><circle class="db" cx="256.6" cy="318.2" r="3.1"/><circle class="dl" cx="317.0" cy="309.3" r="3.0"/><circle class="dl" cx="298.1" cy="235.7" r="2.8"/><circle class="db" cx="342.2" cy="383.3" r="3.0"/><circle class="db" cx="178.2" cy="271.9" r="3.3"/><circle class="dl" cx="263.9" cy="367.0" r="3.0"/><circle class="dl" cx="328.0" cy="320.9" r="2.9"/><circle class="dr" cx="351.4" cy="384.6" r="2.7"/><circle class="dr" cx="319.1" cy="417.9" r="2.7"/><circle class="dl" cx="258.0" cy="325.5" r="2.7"/><circle class="db" cx="244.5" cy="317.4" r="2.8"/><circle class="db" cx="337.6" cy="401.3" r="2.7"/><circle class="db" cx="212.0" cy="237.8" r="3.0"/><circle class="dl" cx="388.2" cy="399.2" r="2.6"/><circle class="dv" cx="128.9" cy="210.7" r="3.0"/><circle class="db" cx="354.7" cy="377.3" r="2.8"/><circle class="db" cx="339.5" cy="356.9" r="3.0"/><circle class="db" cx="307.6" cy="360.0" r="2.6"/><circle class="db" cx="349.3" cy="355.4" r="2.8"/><circle class="dl" cx="320.7" cy="256.4" r="3.4"/><circle class="db" cx="321.6" cy="395.7" r="3.0"/><circle class="dr" cx="199.7" cy="310.1" r="3.0"/><circle class="db" cx="268.2" cy="400.7" r="2.9"/><circle class="de" cx="347.4" cy="364.2" r="3.5"/><circle class="db" cx="256.5" cy="301.7" r="3.0"/><circle class="dr" cx="348.7" cy="366.5" r="2.8"/><circle class="dl" cx="287.7" cy="313.0" r="2.8"/><circle class="dV" cx="389.4" cy="425.1" r="2.6"/><circle class="dv" cx="370.6" cy="444.6" r="3.0"/><circle class="dl" cx="294.8" cy="387.9" r="2.8"/><circle class="db" cx="358.1" cy="384.8" r="2.8"/><circle class="dl" cx="340.0" cy="274.0" r="3.0"/><circle class="dl" cx="359.3" cy="430.7" r="2.9"/><circle class="db" cx="304.3" cy="363.9" r="2.9"/><circle class="dl" cx="306.7" cy="373.7" r="2.6"/><circle class="db" cx="262.9" cy="334.5" r="3.1"/><circle class="dr" cx="371.2" cy="446.7" r="2.8"/><circle class="db" cx="245.5" cy="381.2" r="2.9"/><circle class="dv" cx="340.1" cy="436.1" r="3.0"/><circle class="db" cx="296.1" cy="404.6" r="2.7"/><circle class="db" cx="333.4" cy="257.3" r="3.4"/><circle class="dl" cx="432.7" cy="428.0" r="2.8"/><circle class="db" cx="272.3" cy="379.4" r="3.0"/><circle class="db" cx="326.6" cy="361.8" r="2.9"/><circle class="dl" cx="301.9" cy="376.2" r="2.7"/><circle class="db" cx="270.7" cy="342.0" r="3.0"/><circle class="dv" cx="246.2" cy="324.2" r="3.1"/><circle class="db" cx="307.8" cy="251.5" r="3.3"/><circle class="dl" cx="361.3" cy="399.1" r="2.8"/><circle class="db" cx="339.5" cy="354.1" r="2.8"/><circle class="db" cx="289.5" cy="365.3" r="3.0"/><circle class="db" cx="278.9" cy="323.3" r="3.1"/><circle class="dv" cx="232.2" cy="296.3" r="2.8"/><circle class="dl" cx="333.8" cy="333.9" r="3.1"/><circle class="db" cx="330.1" cy="408.8" r="2.9"/><circle class="dl" cx="257.0" cy="378.4" r="2.8"/><circle class="dl" cx="287.2" cy="326.5" r="2.7"/><circle class="db" cx="357.2" cy="359.2" r="3.4"/><circle class="db" cx="180.8" cy="287.9" r="3.3"/><circle class="dr" cx="477.7" cy="361.1" r="3.0"/><circle class="dv" cx="97.0" cy="196.7" r="3.0"/><circle class="db" cx="280.8" cy="353.0" r="2.7"/><circle class="db" cx="340.1" cy="386.3" r="2.6"/><circle class="dl" cx="433.0" cy="405.4" r="2.9"/><circle class="db" cx="299.1" cy="413.9" r="3.0"/><circle class="dl" cx="227.1" cy="389.4" r="2.8"/><circle class="db" cx="277.4" cy="355.2" r="2.9"/><circle class="db" cx="291.9" cy="387.0" r="2.9"/><circle class="db" cx="331.2" cy="253.3" r="2.7"/><circle class="dl" cx="315.0" cy="245.6" r="2.8"/><circle class="dv" cx="318.5" cy="331.6" r="2.8"/><circle class="dV" cx="333.6" cy="405.4" r="2.8"/><circle class="db" cx="349.7" cy="370.3" r="2.7"/><circle class="dl" cx="417.6" cy="403.4" r="3.0"/><circle class="dl" cx="308.2" cy="424.4" r="3.0"/><circle class="dr" cx="365.8" cy="388.0" r="2.9"/><circle class="dv" cx="412.7" cy="396.1" r="2.9"/><circle class="dv" cx="430.3" cy="410.8" r="2.7"/><circle class="dr" cx="417.3" cy="425.7" r="2.9"/><circle class="dv" cx="172.1" cy="197.6" r="3.0"/><circle class="dl" cx="472.1" cy="393.5" r="3.1"/><circle class="db" cx="309.4" cy="383.6" r="2.7"/><circle class="db" cx="443.9" cy="403.7" r="2.6"/><circle class="dl" cx="328.3" cy="424.5" r="3.1"/><circle class="dl" cx="259.8" cy="318.9" r="2.7"/><circle class="db" cx="201.5" cy="203.6" r="3.0"/><circle class="db" cx="367.3" cy="390.5" r="2.8"/><circle class="dr" cx="336.6" cy="375.9" r="3.0"/><circle class="db" cx="325.0" cy="385.2" r="3.0"/><circle class="dl" cx="185.0" cy="217.5" r="2.8"/><circle class="dv" cx="354.5" cy="396.3" r="3.0"/><circle class="db" cx="337.6" cy="297.3" r="3.5"/><circle class="db" cx="304.2" cy="270.1" r="3.3"/><circle class="db" cx="243.3" cy="392.8" r="2.7"/><circle class="db" cx="336.8" cy="264.0" r="3.4"/><circle class="dl" cx="325.9" cy="255.7" r="3.1"/><circle class="dr" cx="264.2" cy="324.5" r="2.7"/><circle class="db" cx="317.8" cy="411.1" r="2.6"/><circle class="dv" cx="319.4" cy="421.5" r="2.8"/><circle class="dl" cx="302.4" cy="387.3" r="2.7"/><circle class="db" cx="335.0" cy="248.9" r="2.9"/><circle class="db" cx="264.5" cy="329.8" r="2.9"/><circle class="dl" cx="340.4" cy="391.6" r="2.7"/><circle class="dv" cx="260.4" cy="353.5" r="2.7"/><circle class="db" cx="311.4" cy="376.3" r="2.7"/><circle class="dl" cx="299.1" cy="358.3" r="2.9"/><circle class="dv" cx="301.0" cy="304.0" r="3.0"/><circle class="db" cx="225.8" cy="292.7" r="3.5"/><circle class="db" cx="12.7" cy="125.3" r="6.5"/><circle class="dv" cx="221.8" cy="233.5" r="3.0"/><circle class="dV" cx="282.0" cy="230.7" r="4.0"/><circle class="db" cx="302.9" cy="250.4" r="3.3"/><circle class="db" cx="363.7" cy="394.2" r="2.8"/><circle class="db" cx="345.7" cy="387.6" r="2.8"/><circle class="dl" cx="370.9" cy="383.9" r="2.9"/><circle class="dl" cx="257.6" cy="308.5" r="3.1"/><circle class="dl" cx="325.9" cy="336.7" r="2.8"/><circle class="db" cx="306.4" cy="373.2" r="2.8"/><circle class="db" cx="352.0" cy="344.5" r="3.1"/><circle class="dv" cx="358.0" cy="415.2" r="3.0"/><circle class="dv" cx="266.8" cy="311.7" r="3.1"/><circle class="db" cx="270.8" cy="337.5" r="2.7"/><circle class="db" cx="300.5" cy="378.7" r="2.8"/><circle class="dl" cx="318.2" cy="270.4" r="2.8"/><circle class="db" cx="249.8" cy="369.2" r="2.8"/><circle class="dr" cx="311.1" cy="378.8" r="2.8"/><circle class="dv" cx="328.0" cy="299.0" r="3.0"/><circle class="dr" cx="487.7" cy="360.5" r="3.0"/><circle class="dl" cx="518.8" cy="391.6" r="2.8"/><circle class="db" cx="253.4" cy="322.5" r="3.1"/><circle class="dl" cx="505.3" cy="384.9" r="2.8"/><circle class="db" cx="51.5" cy="126.7" r="5.0"/><circle class="db" cx="335.8" cy="382.3" r="3.0"/><circle class="db" cx="429.6" cy="451.0" r="3.2"/><circle class="db" cx="274.9" cy="356.8" r="3.1"/><circle class="dl" cx="433.4" cy="438.5" r="2.9"/><circle class="db" cx="344.9" cy="378.6" r="2.6"/><circle class="db" cx="273.9" cy="383.9" r="2.6"/><circle class="dv" cx="335.2" cy="371.4" r="3.0"/><circle class="db" cx="280.2" cy="326.1" r="2.6"/><circle class="db" cx="267.4" cy="332.5" r="3.0"/><circle class="dl" cx="323.2" cy="305.4" r="3.8"/><circle class="db" cx="299.4" cy="402.8" r="3.1"/><circle class="db" cx="368.2" cy="384.5" r="3.3"/><circle class="dl" cx="426.8" cy="420.5" r="2.7"/><circle class="dv" cx="512.9" cy="376.0" r="3.0"/><circle class="dV" cx="309.7" cy="386.5" r="2.6"/><circle class="db" cx="261.5" cy="355.5" r="2.8"/><circle class="db" cx="323.6" cy="429.8" r="2.8"/><circle class="db" cx="308.0" cy="279.2" r="3.5"/><circle class="db" cx="365.6" cy="376.9" r="3.3"/><circle class="dV" cx="299.8" cy="385.6" r="2.8"/><circle class="dl" cx="325.8" cy="249.6" r="3.4"/><circle class="dv" cx="322.5" cy="330.4" r="2.8"/><circle class="db" cx="428.6" cy="428.5" r="3.1"/><circle class="db" cx="256.8" cy="370.6" r="2.8"/><circle class="dl" cx="426.9" cy="412.1" r="2.7"/><circle class="db" cx="313.0" cy="386.1" r="2.7"/><circle class="dl" cx="368.2" cy="437.7" r="3.1"/><circle class="dl" cx="248.7" cy="334.1" r="2.7"/><circle class="dV" cx="268.2" cy="404.7" r="4.0"/><circle class="dv" cx="322.4" cy="292.7" r="3.0"/><circle class="db" cx="323.2" cy="259.8" r="3.4"/><circle class="db" cx="353.7" cy="347.1" r="2.6"/><circle class="db" cx="302.0" cy="417.3" r="2.6"/><circle class="dv" cx="353.4" cy="357.7" r="2.8"/><circle class="db" cx="324.6" cy="343.7" r="2.8"/><circle class="db" cx="421.9" cy="411.9" r="2.7"/><circle class="dl" cx="344.4" cy="261.5" r="3.4"/><circle class="dr" cx="353.5" cy="436.0" r="3.0"/><circle class="db" cx="421.3" cy="427.3" r="2.8"/><circle class="db" cx="335.0" cy="350.2" r="2.7"/><circle class="db" cx="288.9" cy="327.5" r="4.0"/><circle class="db" cx="311.6" cy="372.1" r="2.9"/><circle class="dl" cx="325.8" cy="409.7" r="2.7"/><circle class="dr" cx="333.3" cy="380.3" r="2.9"/><circle class="dv" cx="242.5" cy="347.7" r="2.9"/><circle class="dl" cx="304.9" cy="231.5" r="3.3"/><circle class="dr" cx="281.7" cy="218.9" r="3.0"/><circle class="dr" cx="307.7" cy="376.9" r="2.9"/><circle class="db" cx="248.1" cy="351.1" r="2.9"/><circle class="db" cx="341.9" cy="373.8" r="3.1"/><circle class="dv" cx="283.8" cy="362.5" r="2.7"/><circle class="dv" cx="299.4" cy="397.6" r="2.7"/><circle class="dv" cx="325.4" cy="415.8" r="2.7"/><circle class="db" cx="342.1" cy="356.1" r="2.6"/><circle class="dl" cx="333.6" cy="363.0" r="3.1"/><circle class="dv" cx="322.5" cy="338.8" r="2.8"/><circle class="db" cx="306.7" cy="255.5" r="3.3"/><circle class="db" cx="396.5" cy="406.2" r="2.8"/><circle class="db" cx="187.5" cy="202.6" r="3.0"/><circle class="dl" cx="342.5" cy="246.0" r="2.8"/><circle class="db" cx="282.8" cy="367.3" r="2.8"/><circle class="dl" cx="231.9" cy="384.8" r="4.0"/><circle class="dl" cx="435.5" cy="433.4" r="2.9"/><circle class="db" cx="185.8" cy="274.4" r="3.3"/><circle class="db" cx="311.2" cy="264.1" r="3.3"/><circle class="dv" cx="295.5" cy="358.4" r="3.1"/><circle class="dv" cx="230.9" cy="324.8" r="3.0"/><circle class="db" cx="358.7" cy="364.2" r="2.8"/><circle class="db" cx="286.8" cy="363.8" r="2.8"/><circle class="db" cx="304.0" cy="245.5" r="4.0"/><circle class="dl" cx="245.7" cy="312.8" r="2.7"/><circle class="dl" cx="282.6" cy="349.1" r="2.7"/><circle class="db" cx="321.7" cy="411.7" r="2.7"/><circle class="dV" cx="268.9" cy="380.1" r="2.9"/><circle class="dl" cx="329.7" cy="420.5" r="2.7"/><circle class="db" cx="329.1" cy="412.3" r="2.9"/><circle class="db" cx="321.9" cy="419.1" r="3.1"/><circle class="dl" cx="343.6" cy="398.2" r="3.0"/><circle class="dl" cx="274.3" cy="386.6" r="2.7"/><circle class="dl" cx="242.9" cy="368.8" r="3.0"/><circle class="dv" cx="328.0" cy="298.7" r="3.0"/><circle class="dv" cx="344.9" cy="421.2" r="2.7"/><circle class="dl" cx="297.4" cy="400.1" r="3.1"/><circle class="db" cx="264.9" cy="321.5" r="2.8"/><circle class="dV" cx="335.8" cy="432.0" r="2.6"/><circle class="dl" cx="321.5" cy="356.4" r="2.7"/><circle class="dv" cx="196.8" cy="236.6" r="3.0"/><circle class="dv" cx="380.5" cy="397.7" r="2.8"/><circle class="dl" cx="260.3" cy="362.5" r="2.7"/><circle class="db" cx="510.7" cy="346.5" r="3.0"/><circle class="db" cx="292.8" cy="363.3" r="3.0"/><circle class="db" cx="293.4" cy="370.3" r="2.8"/><circle class="dr" cx="311.7" cy="357.2" r="2.9"/><circle class="db" cx="315.1" cy="372.0" r="2.7"/><circle class="dl" cx="315.4" cy="346.0" r="2.9"/><circle class="db" cx="311.6" cy="375.4" r="2.6"/><circle class="db" cx="238.8" cy="362.3" r="3.0"/><circle class="db" cx="358.2" cy="379.7" r="2.9"/><circle class="dl" cx="434.0" cy="398.4" r="2.7"/><circle class="dr" cx="239.3" cy="359.7" r="3.0"/><circle class="dl" cx="209.8" cy="317.7" r="2.8"/><circle class="dV" cx="358.2" cy="391.9" r="2.7"/><circle class="dV" cx="365.0" cy="435.5" r="3.0"/><circle class="dl" cx="268.6" cy="340.3" r="2.8"/><circle class="db" cx="320.4" cy="371.1" r="2.7"/><circle class="db" cx="303.8" cy="277.5" r="3.5"/><circle class="db" cx="347.8" cy="362.7" r="3.0"/><circle class="db" cx="323.2" cy="360.6" r="2.7"/><circle class="dr" cx="359.1" cy="382.3" r="2.8"/><circle class="dV" cx="297.5" cy="417.5" r="3.0"/><circle class="dl" cx="306.8" cy="409.3" r="2.8"/><circle class="db" cx="352.1" cy="355.8" r="3.4"/><circle class="db" cx="308.4" cy="369.9" r="2.9"/><circle class="db" cx="308.5" cy="375.4" r="3.0"/><circle class="dl" cx="325.6" cy="426.8" r="2.7"/><circle class="dr" cx="340.3" cy="381.0" r="2.8"/><circle class="dr" cx="344.2" cy="326.7" r="3.0"/><circle class="db" cx="256.3" cy="348.0" r="2.7"/><circle class="dl" cx="325.0" cy="332.3" r="2.9"/><circle class="db" cx="296.5" cy="375.9" r="2.6"/><circle class="dl" cx="348.3" cy="374.6" r="2.9"/><circle class="db" cx="327.1" cy="393.4" r="2.7"/><circle class="dl" cx="380.0" cy="390.1" r="2.8"/><circle class="db" cx="417.4" cy="412.4" r="2.7"/><circle class="db" cx="345.7" cy="352.8" r="2.8"/><circle class="dl" cx="329.2" cy="253.9" r="3.4"/><circle class="db" cx="298.1" cy="245.0" r="3.5"/><circle class="dl" cx="307.7" cy="351.3" r="2.9"/><circle class="db" cx="256.6" cy="321.5" r="2.7"/><circle class="dl" cx="409.1" cy="404.7" r="2.7"/><circle class="dl" cx="359.1" cy="397.6" r="2.7"/><circle class="db" cx="20.0" cy="130.0" r="3.0"/><circle class="db" cx="247.8" cy="375.0" r="3.0"/><circle class="dl" cx="408.1" cy="401.7" r="2.6"/><circle class="db" cx="460.7" cy="400.5" r="3.1"/><circle class="db" cx="404.3" cy="411.0" r="2.7"/><circle class="dl" cx="308.3" cy="315.5" r="2.8"/><circle class="dr" cx="339.3" cy="396.8" r="3.1"/><circle class="db" cx="259.8" cy="374.2" r="3.1"/><circle class="dV" cx="354.3" cy="410.8" r="2.7"/><circle class="db" cx="299.8" cy="259.6" r="3.3"/><circle class="dV" cx="357.6" cy="441.8" r="3.0"/><circle class="dl" cx="396.9" cy="402.2" r="2.7"/><circle class="db" cx="289.9" cy="371.5" r="2.8"/><circle class="db" cx="266.3" cy="369.5" r="2.8"/><circle class="db" cx="407.0" cy="407.2" r="2.8"/><circle class="dr" cx="328.7" cy="363.6" r="2.7"/><circle class="dr" cx="395.5" cy="432.0" r="3.0"/><circle class="dl" cx="350.1" cy="378.1" r="2.8"/><circle class="db" cx="307.4" cy="368.6" r="3.0"/><circle class="dl" cx="289.9" cy="381.2" r="3.0"/><circle class="db" cx="437.1" cy="436.6" r="2.9"/><circle class="db" cx="336.6" cy="392.9" r="2.7"/><circle class="db" cx="254.9" cy="362.2" r="2.9"/><circle class="dr" cx="354.8" cy="370.0" r="3.0"/><circle class="db" cx="312.1" cy="415.7" r="2.9"/><circle class="db" cx="248.5" cy="322.4" r="2.7"/><circle class="dV" cx="321.8" cy="401.6" r="3.0"/><circle class="db" cx="340.0" cy="361.8" r="2.8"/><circle class="db" cx="441.6" cy="399.1" r="2.6"/><circle class="dl" cx="301.6" cy="360.2" r="2.9"/><circle class="dr" cx="322.2" cy="388.3" r="2.7"/><circle class="db" cx="258.5" cy="303.7" r="2.7"/><circle class="db" cx="239.2" cy="379.1" r="2.8"/><circle class="dl" cx="269.1" cy="373.9" r="2.7"/><circle class="dr" cx="357.2" cy="366.3" r="3.5"/><circle class="db" cx="355.2" cy="366.5" r="3.0"/><circle class="dV" cx="378.2" cy="409.2" r="3.0"/><circle class="db" cx="349.1" cy="390.1" r="3.0"/><circle class="dl" cx="335.1" cy="270.0" r="2.9"/><circle class="db" cx="323.5" cy="364.6" r="3.0"/><circle class="db" cx="173.2" cy="277.8" r="3.3"/><circle class="db" cx="302.4" cy="400.7" r="3.0"/><circle class="dl" cx="323.5" cy="316.0" r="2.8"/><circle class="db" cx="309.9" cy="407.6" r="2.7"/><circle class="db" cx="271.8" cy="347.2" r="2.8"/><circle class="dl" cx="230.0" cy="372.0" r="2.8"/><circle class="db" cx="318.1" cy="414.9" r="2.8"/><circle class="db" cx="332.4" cy="365.6" r="2.7"/><circle class="dl" cx="339.1" cy="251.8" r="2.6"/><circle class="dl" cx="261.0" cy="378.9" r="2.7"/><circle class="db" cx="301.8" cy="364.4" r="3.0"/><circle class="dl" cx="169.8" cy="231.7" r="2.8"/><circle class="dl" cx="420.2" cy="397.2" r="2.9"/><circle class="dr" cx="333.5" cy="377.8" r="2.7"/><circle class="dl" cx="256.3" cy="358.1" r="3.0"/><circle class="db" cx="308.2" cy="379.8" r="2.6"/><circle class="db" cx="345.9" cy="260.7" r="2.9"/><circle class="db" cx="336.6" cy="364.1" r="3.0"/><circle class="dV" cx="318.6" cy="433.4" r="3.0"/><circle class="dl" cx="340.1" cy="313.0" r="2.8"/><circle class="db" cx="391.0" cy="401.8" r="3.0"/><circle class="db" cx="311.2" cy="367.8" r="2.7"/><circle class="db" cx="343.6" cy="369.0" r="2.7"/><circle class="db" cx="389.3" cy="396.0" r="3.5"/><circle class="db" cx="240.8" cy="365.9" r="2.7"/><circle class="dl" cx="118.2" cy="164.5" r="2.8"/><circle class="db" cx="426.6" cy="393.6" r="2.7"/><circle class="dr" cx="320.4" cy="380.7" r="2.9"/><circle class="dl" cx="300.5" cy="231.5" r="2.8"/><circle class="dV" cx="334.3" cy="401.2" r="2.8"/><circle class="db" cx="350.8" cy="348.4" r="2.6"/><circle class="db" cx="331.6" cy="369.8" r="2.8"/><circle class="dl" cx="276.8" cy="341.3" r="2.8"/><circle class="db" cx="326.5" cy="357.5" r="2.9"/><circle class="dl" cx="341.1" cy="326.3" r="2.7"/><circle class="dl" cx="287.7" cy="376.8" r="2.9"/><circle class="db" cx="312.9" cy="260.6" r="3.3"/><circle class="dl" cx="320.2" cy="428.2" r="2.7"/><circle class="dl" cx="363.3" cy="389.7" r="2.7"/><circle class="db" cx="280.1" cy="367.2" r="3.0"/><circle class="dV" cx="356.2" cy="442.9" r="2.8"/><circle class="db" cx="421.8" cy="433.3" r="2.7"/><circle class="db" cx="285.5" cy="367.9" r="3.1"/><circle class="dr" cx="257.7" cy="353.2" r="3.0"/><circle class="dl" cx="364.6" cy="397.3" r="2.9"/><circle class="db" cx="339.8" cy="377.4" r="2.6"/><circle class="dr" cx="339.7" cy="372.5" r="3.1"/><circle class="dl" cx="180.3" cy="255.5" r="2.8"/><circle class="dl" cx="437.9" cy="398.2" r="2.8"/><circle class="dr" cx="322.3" cy="404.7" r="2.7"/><circle class="db" cx="311.5" cy="390.8" r="2.7"/><circle class="dV" cx="363.4" cy="406.2" r="2.9"/><circle class="db" cx="307.8" cy="428.9" r="2.9"/><circle class="db" cx="279.9" cy="384.6" r="3.1"/><circle class="dV" cx="250.7" cy="303.9" r="2.7"/><circle class="db" cx="266.7" cy="404.3" r="2.9"/><circle class="db" cx="299.3" cy="374.6" r="3.1"/><circle class="db" cx="365.5" cy="383.8" r="2.6"/><circle class="db" cx="321.4" cy="362.3" r="2.7"/><circle class="dV" cx="338.1" cy="409.6" r="3.0"/><circle class="dr" cx="362.9" cy="376.6" r="2.8"/><circle class="db" cx="325.8" cy="376.1" r="3.0"/><circle class="db" cx="238.3" cy="394.1" r="2.9"/><circle class="dr" cx="485.0" cy="343.8" r="3.0"/><circle class="db" cx="339.8" cy="400.2" r="2.7"/><circle class="dl" cx="285.7" cy="355.6" r="2.6"/><circle class="db" cx="283.5" cy="325.4" r="2.6"/><circle class="db" cx="312.3" cy="405.6" r="3.0"/><circle class="db" cx="283.0" cy="358.9" r="2.9"/><circle class="dl" cx="89.0" cy="160.8" r="2.8"/><circle class="db" cx="194.6" cy="141.7" r="5.0"/><circle class="dr" cx="334.4" cy="347.0" r="3.0"/><circle class="dl" cx="322.8" cy="250.0" r="3.0"/><circle class="dl" cx="338.4" cy="277.5" r="5.0"/><circle class="dl" cx="249.9" cy="309.8" r="2.6"/><circle class="db" cx="316.9" cy="379.9" r="2.8"/><circle class="dl" cx="304.6" cy="405.4" r="2.6"/><circle class="db" cx="350.4" cy="350.2" r="3.4"/><circle class="dl" cx="311.2" cy="355.4" r="2.8"/><circle class="dl" cx="286.4" cy="359.1" r="2.9"/><circle class="dl" cx="282.6" cy="381.5" r="2.7"/><circle class="db" cx="390.3" cy="393.7" r="3.1"/><circle class="dV" cx="316.4" cy="417.6" r="3.1"/><circle class="db" cx="314.3" cy="382.9" r="3.0"/><circle class="db" cx="268.2" cy="307.9" r="2.7"/><circle class="dl" cx="316.5" cy="256.4" r="3.4"/><circle class="db" cx="261.0" cy="348.4" r="2.9"/><circle class="db" cx="311.4" cy="381.0" r="3.0"/><circle class="db" cx="350.3" cy="393.3" r="2.7"/><circle class="dl" cx="429.6" cy="425.3" r="2.6"/><circle class="db" cx="277.1" cy="362.0" r="2.9"/><circle class="dl" cx="323.7" cy="316.9" r="2.8"/><circle class="dl" cx="297.0" cy="306.2" r="2.8"/><circle class="db" cx="272.9" cy="368.6" r="2.8"/><circle class="dl" cx="255.0" cy="365.9" r="3.1"/><circle class="dl" cx="109.0" cy="160.0" r="2.8"/><circle class="db" cx="175.7" cy="268.5" r="3.3"/><circle class="dl" cx="278.3" cy="348.4" r="2.9"/><circle class="dr" cx="139.2" cy="310.7" r="4.0"/><circle class="db" cx="354.6" cy="349.7" r="2.7"/><circle class="dl" cx="309.0" cy="220.5" r="3.8"/><circle class="db" cx="429.4" cy="436.9" r="2.9"/><circle class="dl" cx="274.8" cy="376.4" r="2.7"/><circle class="db" cx="307.8" cy="413.9" r="2.7"/><circle class="dl" cx="164.2" cy="238.6" r="2.8"/><circle class="db" cx="283.5" cy="329.2" r="2.7"/><circle class="dl" cx="315.5" cy="401.6" r="3.1"/><circle class="db" cx="260.6" cy="331.6" r="2.7"/><circle class="dl" cx="299.4" cy="315.3" r="2.9"/><circle class="db" cx="345.5" cy="384.9" r="3.1"/><circle class="dl" cx="305.4" cy="379.0" r="2.7"/><circle class="db" cx="101.4" cy="162.8" r="4.0"/><circle class="db" cx="297.7" cy="379.9" r="2.7"/><circle class="db" cx="349.0" cy="257.0" r="2.8"/><circle class="dl" cx="257.0" cy="342.0" r="2.7"/><circle class="db" cx="327.6" cy="330.4" r="3.5"/><circle class="db" cx="320.3" cy="408.1" r="3.0"/><circle class="db" cx="289.3" cy="368.3" r="2.8"/><circle class="db" cx="325.8" cy="262.2" r="2.8"/><circle class="db" cx="231.8" cy="375.8" r="3.1"/><circle class="db" cx="351.9" cy="374.8" r="2.9"/><circle class="dr" cx="348.3" cy="380.0" r="2.8"/><circle class="dr" cx="328.3" cy="383.3" r="2.8"/><circle class="db" cx="349.6" cy="358.3" r="3.4"/><circle class="db" cx="343.6" cy="391.0" r="2.7"/><circle class="db" cx="274.7" cy="363.8" r="2.6"/><circle class="db" cx="279.9" cy="381.5" r="3.0"/><circle class="dl" cx="238.0" cy="355.3" r="2.9"/><circle class="db" cx="288.8" cy="357.6" r="2.9"/><circle class="db" cx="342.3" cy="262.2" r="3.1"/><circle class="db" cx="346.4" cy="371.0" r="2.6"/><circle class="db" cx="264.6" cy="356.1" r="2.6"/><circle class="db" cx="326.3" cy="381.8" r="2.7"/><circle class="db" cx="291.6" cy="376.3" r="3.1"/><circle class="dl" cx="337.5" cy="380.5" r="2.7"/><circle class="db" cx="21.0" cy="123.6" r="4.0"/><circle class="db" cx="258.3" cy="368.5" r="2.8"/><circle class="dr" cx="342.4" cy="353.2" r="3.1"/><circle class="db" cx="314.1" cy="423.7" r="3.0"/><circle class="dl" cx="201.1" cy="149.8" r="2.8"/><circle class="dl" cx="285.8" cy="383.9" r="2.7"/><circle class="db" cx="305.6" cy="399.5" r="2.8"/><circle class="dr" cx="348.9" cy="382.9" r="2.7"/><circle class="dl" cx="235.0" cy="385.5" r="2.7"/><circle class="dl" cx="328.9" cy="380.1" r="3.0"/><circle class="dl" cx="267.3" cy="316.8" r="3.0"/><circle class="db" cx="469.6" cy="370.5" r="3.0"/><circle class="db" cx="270.9" cy="328.4" r="2.9"/><circle class="dr" cx="357.8" cy="368.5" r="2.7"/><circle class="db" cx="435.0" cy="453.0" r="3.3"/><circle class="db" cx="252.5" cy="314.6" r="2.7"/><circle class="dl" cx="354.7" cy="392.4" r="2.8"/><circle class="db" cx="302.4" cy="382.3" r="3.0"/><circle class="dr" cx="317.1" cy="374.4" r="2.9"/><circle class="dr" cx="357.3" cy="435.8" r="3.0"/><circle class="db" cx="351.1" cy="368.0" r="3.1"/><circle class="db" cx="301.0" cy="264.5" r="3.3"/><circle class="dr" cx="352.1" cy="433.8" r="2.8"/><circle class="db" cx="118.8" cy="217.5" r="4.5"/><circle class="db" cx="328.9" cy="423.8" r="2.8"/><circle class="dl" cx="331.7" cy="385.2" r="3.1"/><circle class="dr" cx="362.8" cy="370.2" r="2.8"/><circle class="db" cx="265.6" cy="345.8" r="2.6"/><circle class="dl" cx="323.8" cy="390.4" r="3.0"/><circle class="db" cx="252.0" cy="362.9" r="2.6"/><circle class="dl" cx="300.8" cy="370.3" r="2.8"/><circle class="dl" cx="250.0" cy="315.5" r="2.7"/><circle class="db" cx="246.9" cy="315.1" r="2.9"/><circle class="dl" cx="261.4" cy="303.9" r="3.1"/><circle class="dl" cx="269.9" cy="384.9" r="2.9"/><circle class="dl" cx="245.1" cy="387.6" r="2.9"/><circle class="dr" cx="381.5" cy="424.7" r="3.0"/><circle class="db" cx="299.7" cy="362.7" r="2.7"/><circle class="db" cx="318.0" cy="360.2" r="2.7"/><circle class="db" cx="301.3" cy="254.7" r="3.3"/><circle class="db" cx="195.9" cy="307.0" r="4.0"/><circle class="db" cx="234.9" cy="393.0" r="3.0"/><circle class="db" cx="274.4" cy="360.0" r="2.6"/><circle class="db" cx="182.5" cy="282.8" r="3.3"/><circle class="db" cx="304.2" cy="300.0" r="3.0"/><circle class="dl" cx="164.7" cy="255.8" r="2.8"/><circle class="db" cx="19.4" cy="136.3" r="3.5"/><circle class="dr" cx="385.1" cy="429.2" r="2.8"/><circle class="db" cx="372.2" cy="386.7" r="2.8"/><circle class="db" cx="350.6" cy="358.0" r="2.9"/><circle class="dr" cx="343.3" cy="398.2" r="2.8"/><circle class="db" cx="168.1" cy="272.7" r="3.3"/><circle class="db" cx="336.9" cy="342.8" r="3.0"/><circle class="dl" cx="296.4" cy="355.3" r="2.9"/><circle class="db" cx="325.3" cy="404.8" r="2.9"/><circle class="dl" cx="343.1" cy="371.5" r="2.8"/><circle class="dl" cx="260.1" cy="365.8" r="2.9"/><circle class="db" cx="423.5" cy="408.3" r="2.7"/><circle class="db" cx="205.9" cy="312.9" r="3.0"/><circle class="dl" cx="350.3" cy="387.5" r="3.0"/><circle class="db" cx="323.9" cy="394.0" r="2.9"/><circle class="db" cx="489.1" cy="394.9" r="3.1"/><circle class="db" cx="260.4" cy="381.5" r="3.0"/><circle class="db" cx="19.0" cy="139.3" r="3.5"/><circle class="db" cx="187.5" cy="207.7" r="5.0"/><circle class="dl" cx="309.3" cy="304.9" r="2.9"/><circle class="db" cx="360.0" cy="359.0" r="2.6"/><circle class="db" cx="370.7" cy="381.1" r="3.3"/><circle class="db" cx="444.4" cy="424.1" r="2.6"/><circle class="db" cx="356.6" cy="388.9" r="2.9"/><circle class="db" cx="303.3" cy="366.8" r="2.6"/><circle class="db" cx="302.0" cy="408.5" r="3.0"/><circle class="db" cx="247.4" cy="263.6" r="4.2"/><circle class="dl" cx="160.8" cy="184.0" r="2.8"/><circle class="dl" cx="262.1" cy="369.9" r="2.7"/><circle class="dl" cx="324.4" cy="372.7" r="2.7"/><circle class="db" cx="117.9" cy="150.7" r="4.2"/><circle class="db" cx="321.5" cy="386.0" r="2.7"/><circle class="dl" cx="277.1" cy="380.5" r="2.8"/><circle class="dl" cx="346.0" cy="274.0" r="3.0"/><circle class="dl" cx="327.5" cy="247.1" r="3.4"/><circle class="dl" cx="350.3" cy="257.3" r="5.0"/><circle class="db" cx="373.7" cy="390.2" r="3.0"/><circle class="db" cx="353.6" cy="386.7" r="2.7"/><circle class="db" cx="314.6" cy="410.4" r="2.9"/><circle class="dl" cx="296.0" cy="299.5" r="3.0"/><circle class="db" cx="293.5" cy="384.9" r="3.0"/><circle class="db" cx="325.4" cy="370.0" r="2.8"/><circle class="db" cx="368.7" cy="385.0" r="2.7"/><circle class="db" cx="271.9" cy="365.8" r="2.9"/><circle class="db" cx="423.0" cy="404.3" r="2.6"/><circle class="db" cx="266.3" cy="377.9" r="2.7"/><circle class="db" cx="313.2" cy="388.6" r="2.7"/><circle class="db" cx="271.7" cy="371.0" r="2.7"/><circle class="dl" cx="426.3" cy="436.5" r="2.9"/><circle class="dl" cx="323.5" cy="378.6" r="2.6"/><circle class="dl" cx="378.2" cy="389.4" r="3.0"/><circle class="db" cx="329.1" cy="250.1" r="3.0"/><circle class="dl" cx="320.1" cy="399.4" r="2.9"/><circle class="db" cx="257.5" cy="367.9" r="2.6"/><circle class="db" cx="438.3" cy="449.7" r="3.3"/><circle class="dl" cx="332.5" cy="393.4" r="2.9"/><circle class="db" cx="303.8" cy="424.9" r="3.0"/><circle class="dl" cx="320.7" cy="247.1" r="3.4"/><circle class="db" cx="439.9" cy="459.2" r="3.3"/><circle class="dl" cx="326.5" cy="335.1" r="2.6"/><circle class="db" cx="325.6" cy="420.9" r="2.8"/><circle class="dl" cx="38.0" cy="126.0" r="3.0"/><circle class="dl" cx="441.0" cy="425.0" r="3.1"/><circle class="db" cx="207.7" cy="237.4" r="3.5"/><circle class="dl" cx="318.2" cy="251.3" r="3.4"/><circle class="db" cx="278.8" cy="378.4" r="2.8"/><circle class="db" cx="344.4" cy="343.1" r="3.0"/><circle class="db" cx="255.1" cy="325.6" r="2.8"/><circle class="db" cx="242.3" cy="361.0" r="3.0"/><circle class="dl" cx="289.0" cy="386.4" r="2.8"/><circle class="db" cx="360.4" cy="395.4" r="2.9"/><circle class="db" cx="422.9" cy="419.2" r="2.7"/><circle class="dl" cx="315.1" cy="359.2" r="2.9"/><circle class="dl" cx="398.0" cy="397.7" r="2.7"/><circle class="dl" cx="185.0" cy="239.8" r="3.8"/><circle class="db" cx="251.7" cy="326.5" r="2.9"/><circle class="db" cx="425.6" cy="439.8" r="2.9"/><circle class="dl" cx="299.8" cy="367.1" r="2.7"/><circle class="db" cx="321.3" cy="299.3" r="4.0"/><circle class="dl" cx="217.9" cy="240.0" r="2.8"/><circle class="db" cx="257.8" cy="371.2" r="3.0"/><circle class="db" cx="506.6" cy="392.5" r="3.4"/><circle class="dl" cx="309.2" cy="320.2" r="3.0"/><circle class="db" cx="297.9" cy="256.4" r="3.3"/><circle class="db" cx="265.8" cy="374.6" r="2.7"/><circle class="db" cx="357.6" cy="395.3" r="2.9"/><circle class="db" cx="346.8" cy="396.5" r="3.1"/><circle class="db" cx="244.0" cy="320.5" r="2.8"/><circle class="dl" cx="313.1" cy="366.7" r="3.0"/><circle class="dl" cx="171.5" cy="258.9" r="3.3"/><circle class="db" cx="293.9" cy="224.8" r="3.0"/><circle class="db" cx="298.9" cy="406.7" r="3.0"/><circle class="dl" cx="314.7" cy="392.1" r="2.7"/><circle class="dl" cx="194.9" cy="149.8" r="2.8"/><circle class="dl" cx="511.2" cy="383.5" r="2.8"/><circle class="dl" cx="439.4" cy="431.3" r="3.0"/><circle class="dl" cx="187.0" cy="265.6" r="3.8"/><circle class="db" cx="263.8" cy="340.6" r="2.8"/><circle class="db" cx="263.4" cy="377.8" r="3.0"/><circle class="db" cx="466.6" cy="379.5" r="3.5"/><circle class="dl" cx="344.8" cy="265.8" r="2.7"/><circle class="db" cx="279.0" cy="355.8" r="2.6"/><circle class="db" cx="281.7" cy="373.8" r="2.9"/><circle class="dl" cx="324.9" cy="255.6" r="3.4"/><circle class="db" cx="198.8" cy="146.5" r="3.0"/><circle class="db" cx="276.1" cy="330.9" r="3.1"/><circle class="db" cx="259.8" cy="359.7" r="2.9"/><circle class="dl" cx="270.5" cy="363.1" r="2.9"/><circle class="dl" cx="441.1" cy="417.1" r="2.8"/><circle class="dl" cx="289.9" cy="362.0" r="2.8"/><circle class="db" cx="311.7" cy="381.4" r="2.7"/><circle class="dl" cx="319.5" cy="384.3" r="3.0"/><circle class="db" cx="302.4" cy="357.6" r="2.8"/><circle class="dl" cx="322.6" cy="305.8" r="3.8"/><circle class="dl" cx="334.1" cy="375.3" r="2.8"/><circle class="dl" cx="456.6" cy="437.6" r="2.8"/><circle class="dl" cx="312.0" cy="311.5" r="2.8"/><circle class="dl" cx="245.3" cy="295.3" r="3.0"/><circle class="db" cx="259.1" cy="344.8" r="2.8"/><circle class="db" cx="441.8" cy="462.7" r="3.3"/><circle class="db" cx="322.6" cy="367.8" r="3.0"/><circle class="db" cx="306.5" cy="265.7" r="3.3"/><circle class="db" cx="354.5" cy="374.4" r="2.7"/><circle class="dl" cx="163.4" cy="240.6" r="3.2"/><circle class="dl" cx="311.0" cy="420.4" r="2.6"/><circle class="db" cx="284.1" cy="371.2" r="2.8"/><circle class="db" cx="305.1" cy="361.0" r="3.0"/><circle class="db" cx="99.3" cy="163.8" r="3.0"/><circle class="dl" cx="256.1" cy="373.2" r="3.0"/><circle class="db" cx="316.6" cy="422.4" r="3.0"/><circle class="dl" cx="225.5" cy="309.6" r="2.7"/><circle class="db" cx="309.1" cy="362.8" r="2.7"/><circle class="dl" cx="304.0" cy="415.0" r="2.6"/><circle class="db" cx="295.4" cy="299.5" r="3.5"/><circle class="db" cx="286.8" cy="359.4" r="2.7"/><circle class="db" cx="270.1" cy="332.4" r="2.8"/><circle class="db" cx="430.2" cy="440.4" r="2.9"/><circle class="dl" cx="308.0" cy="288.0" r="2.8"/><circle class="db" cx="270.1" cy="368.3" r="2.8"/><circle class="dl" cx="165.0" cy="159.6" r="2.8"/><circle class="db" cx="276.1" cy="369.0" r="3.0"/><circle class="db" cx="276.7" cy="354.4" r="2.7"/><circle class="db" cx="284.2" cy="376.4" r="3.1"/><circle class="db" cx="114.9" cy="166.7" r="4.0"/><circle class="db" cx="354.0" cy="357.5" r="2.8"/><circle class="db" cx="317.5" cy="395.3" r="2.7"/><circle class="db" cx="366.5" cy="409.5" r="2.9"/><circle class="dl" cx="333.4" cy="288.5" r="3.3"/><circle class="db" cx="320.7" cy="359.7" r="2.8"/><circle class="dl" cx="305.9" cy="417.4" r="3.0"/><circle class="dl" cx="177.9" cy="239.3" r="2.8"/><circle class="dl" cx="328.7" cy="367.9" r="3.0"/><circle class="db" cx="317.9" cy="315.5" r="3.1"/><circle class="dl" cx="333.2" cy="411.7" r="2.6"/><circle class="db" cx="288.4" cy="357.0" r="2.8"/><circle class="dl" cx="247.4" cy="327.5" r="2.7"/><circle class="dl" cx="339.6" cy="259.5" r="2.8"/><circle class="db" cx="256.8" cy="365.0" r="3.0"/><circle class="dl" cx="299.9" cy="307.7" r="2.7"/><circle class="db" cx="305.6" cy="369.7" r="2.8"/><circle class="db" cx="303.5" cy="261.1" r="3.3"/><circle class="db" cx="285.9" cy="379.0" r="2.7"/><circle class="dl" cx="209.0" cy="309.6" r="2.8"/><circle class="db" cx="258.2" cy="315.2" r="2.7"/><circle class="dl" cx="320.6" cy="425.5" r="2.8"/><circle class="db" cx="412.7" cy="404.3" r="3.0"/><circle class="db" cx="388.0" cy="418.1" r="3.1"/><circle class="db" cx="347.9" cy="350.7" r="3.4"/><circle class="db" cx="466.1" cy="393.5" r="3.1"/><circle class="dl" cx="263.0" cy="364.0" r="3.0"/><circle class="db" cx="237.3" cy="387.8" r="2.7"/><circle class="dl" cx="332.9" cy="281.8" r="2.8"/><circle class="db" cx="336.0" cy="378.5" r="3.0"/><circle class="db" cx="348.8" cy="346.4" r="2.8"/><circle class="de" cx="445.0" cy="443.8" r="3.0"/><circle class="db" cx="304.5" cy="375.3" r="3.1"/><circle class="db" cx="442.6" cy="456.5" r="3.3"/><circle class="db" cx="313.9" cy="276.7" r="4.5"/><circle class="dl" cx="296.5" cy="408.6" r="2.8"/><circle class="dl" cx="254.6" cy="369.0" r="2.7"/><circle class="dl" cx="311.0" cy="223.0" r="3.0"/><circle class="dl" cx="205.0" cy="239.0" r="2.8"/><circle class="db" cx="251.2" cy="329.9" r="2.9"/><circle class="dl" cx="361.8" cy="367.7" r="3.0"/><circle class="db" cx="335.7" cy="387.1" r="3.1"/><circle class="db" cx="309.7" cy="417.3" r="2.9"/><circle class="db" cx="309.2" cy="270.2" r="3.3"/><circle class="db" cx="360.6" cy="373.5" r="3.3"/><circle class="dl" cx="289.6" cy="342.2" r="2.9"/><circle class="db" cx="292.2" cy="373.3" r="2.9"/><circle class="db" cx="348.3" cy="342.8" r="2.9"/><circle class="dl" cx="342.6" cy="377.7" r="3.0"/><circle class="dl" cx="367.1" cy="395.8" r="2.6"/><circle class="db" cx="441.8" cy="447.0" r="3.3"/><circle class="dl" cx="331.1" cy="295.3" r="3.0"/><circle class="db" cx="299.1" cy="421.3" r="2.6"/><circle class="db" cx="371.6" cy="392.1" r="2.8"/><circle class="dl" cx="341.1" cy="265.9" r="3.0"/><circle class="db" cx="347.0" cy="354.1" r="3.4"/><circle class="db" cx="315.8" cy="413.4" r="3.0"/><circle class="dl" cx="423.8" cy="394.6" r="2.9"/><circle class="dl" cx="371.0" cy="389.5" r="2.7"/><circle class="db" cx="279.5" cy="318.1" r="2.8"/><circle class="db" cx="355.5" cy="375.2" r="3.3"/><circle class="dl" cx="323.9" cy="314.1" r="2.8"/><circle class="dl" cx="315.2" cy="406.8" r="2.7"/><circle class="db" cx="293.2" cy="408.4" r="2.9"/><circle class="db" cx="255.6" cy="329.7" r="3.0"/><circle class="db" cx="409.8" cy="413.1" r="3.0"/><circle class="dl" cx="25.8" cy="150.7" r="2.8"/><circle class="db" cx="347.2" cy="349.3" r="2.9"/><circle class="db" cx="423.1" cy="430.4" r="3.0"/><circle class="db" cx="340.7" cy="416.7" r="2.9"/><circle class="db" cx="269.7" cy="323.6" r="2.9"/><circle class="db" cx="337.5" cy="385.4" r="2.7"/><circle class="db" cx="256.2" cy="335.0" r="2.8"/><circle class="db" cx="85.0" cy="139.9" r="3.2"/><circle class="db" cx="303.8" cy="299.0" r="4.0"/><circle class="db" cx="384.7" cy="434.4" r="2.9"/><circle class="db" cx="432.8" cy="401.5" r="2.8"/><circle class="db" cx="273.8" cy="342.5" r="2.7"/><circle class="db" cx="134.3" cy="226.2" r="4.0"/><circle class="db" cx="332.5" cy="251.3" r="3.4"/><circle class="db" cx="270.6" cy="312.1" r="2.7"/><circle class="db" cx="338.0" cy="246.6" r="2.9"/><circle class="db" cx="256.6" cy="350.7" r="2.8"/><circle class="db" cx="268.1" cy="366.2" r="3.0"/><circle class="db" cx="257.2" cy="360.9" r="3.0"/><circle class="db" cx="374.9" cy="382.8" r="3.3"/><circle class="db" cx="237.2" cy="351.2" r="2.8"/><circle class="db" cx="430.7" cy="393.0" r="3.0"/><circle class="db" cx="176.6" cy="283.7" r="3.3"/><circle class="db" cx="97.1" cy="162.8" r="4.0"/><circle class="db" cx="297.7" cy="372.0" r="2.7"/><circle class="db" cx="345.9" cy="358.9" r="3.0"/><circle class="db" cx="278.9" cy="373.5" r="2.7"/><circle class="db" cx="309.4" cy="295.4" r="2.6"/><circle class="db" cx="336.7" cy="356.2" r="2.7"/><circle class="db" cx="310.7" cy="369.0" r="3.0"/><circle class="db" cx="320.7" cy="298.7" r="4.0"/><circle class="db" cx="409.4" cy="397.4" r="3.1"/><circle class="db" cx="282.9" cy="387.6" r="2.8"/><circle class="db" cx="440.4" cy="453.0" r="3.3"/><circle class="db" cx="291.1" cy="359.7" r="3.0"/><circle class="db" cx="381.4" cy="392.9" r="2.9"/><circle class="db" cx="266.4" cy="352.7" r="2.7"/><circle class="db" cx="240.1" cy="389.6" r="2.7"/><circle class="db" cx="314.9" cy="395.7" r="3.0"/><circle class="db" cx="321.5" cy="374.7" r="2.6"/><circle class="db" cx="350.8" cy="351.7" r="2.7"/><circle class="db" cx="432.9" cy="423.2" r="2.8"/><circle class="db" cx="319.4" cy="388.5" r="2.8"/><circle class="db" cx="402.6" cy="407.1" r="2.7"/><circle class="db" cx="364.8" cy="366.8" r="3.0"/><circle class="db" cx="282.6" cy="384.8" r="3.0"/><circle class="db" cx="308.3" cy="384.2" r="3.0"/><circle class="db" cx="309.6" cy="358.5" r="2.7"/><circle class="db" cx="310.9" cy="401.8" r="2.6"/><circle class="db" cx="281.1" cy="376.4" r="2.8"/><circle class="db" cx="307.6" cy="381.2" r="3.1"/><circle class="db" cx="166.2" cy="192.5" r="3.3"/><circle class="db" cx="309.7" cy="372.3" r="2.8"/><circle class="db" cx="319.1" cy="376.0" r="3.0"/><circle class="db" cx="294.9" cy="411.4" r="2.6"/><circle class="db" cx="282.4" cy="317.9" r="3.0"/><circle class="db" cx="270.8" cy="321.0" r="2.7"/><circle class="db" cx="129.0" cy="291.0" r="3.0"/><circle class="db" cx="273.1" cy="324.3" r="2.8"/><circle class="db" cx="198.4" cy="196.0" r="3.0"/><circle class="db" cx="346.0" cy="367.5" r="2.7"/><circle class="db" cx="363.5" cy="386.5" r="2.6"/><circle class="db" cx="343.6" cy="393.9" r="2.9"/><circle class="db" cx="525.5" cy="360.5" r="3.0"/><circle class="db" cx="316.3" cy="356.1" r="2.7"/><circle class="db" cx="320.3" cy="304.2" r="2.9"/><circle class="db" cx="440.6" cy="440.4" r="2.7"/><circle class="db" cx="350.7" cy="353.4" r="2.8"/><circle class="db" cx="331.1" cy="376.5" r="2.8"/><circle class="db" cx="166.4" cy="266.0" r="3.5"/><circle class="db" cx="399.8" cy="395.4" r="2.8"/><circle class="db" cx="133.5" cy="228.8" r="3.5"/><circle class="db" cx="259.7" cy="322.0" r="2.9"/><circle class="db" cx="334.1" cy="360.2" r="2.6"/><circle class="db" cx="350.5" cy="396.7" r="2.9"/><circle class="db" cx="176.6" cy="274.4" r="3.3"/>
</svg>
<div class="edge"></div>
<div class="zoom"><a href="#" title="Zoom in">+</a><a href="#" title="Zoom out">&#8722;</a></div>
<div class="attr"><a href="#"><svg viewBox="0 0 12 8"><rect width="12" height="4" fill="#4c7be1"/><rect y="4" width="12" height="4" fill="#ffd500"/></svg>Leaflet</a> <span>|</span> &copy; <a href="#">OpenStreetMap</a> &copy; <a href="#">Mapbox</a></div>
<div class="legend">
 <div class="t">Event Count</div>
 <div class="w" style="left:30.5px;top:34.5px;width:7px;height:7px;border-radius:50%"></div>
 <div class="w" style="left:25px;top:48px;width:19px;height:11px;border-radius:5px/5px"></div>
 <div class="w" style="left:15.5px;top:62.5px;width:37px;height:12px;border-radius:3px"></div>
 <div class="n" style="top:31px">1</div><div class="n" style="top:46px">162</div><div class="n" style="top:61px">324</div>
 <div class="c" style="top:13px;background:#c85200"></div><div class="l" style="top:13px">Violence against civilians</div>
 <div class="c" style="top:31px;background:#898989"></div><div class="l" style="top:31px">Riots</div>
 <div class="c" style="top:49px;background:#266580"></div><div class="l" style="top:49px">Explosions/Remote violence</div>
 <div class="c" style="top:67px;background:#f9a11f"></div><div class="l" style="top:67px">Battles</div>
</div>
</div>
<div id="side">
 <div class="hd" style="top:0"><svg style="left:12px;top:30px" width="11" height="11" viewBox="0 0 11 11"><path d="M0.5 0.5L10.5 10.5M10.5 0.5L0.5 10.5" stroke="#111" stroke-width="1.3" fill="none"/></svg>
 <p><span style="letter-spacing:.185px">In 2023, Mexico was the most dangerous country in</span><br><span style="letter-spacing:.42px">the world for civilians</span></p></div>
 <div id="chart">
  <h3><span>Top 10 Countries Most Dangerous to Civilians in 2023</span></h3>
<div class="row" style="top:80.9px"><span class="cn">Mexico</span><div class="bar hl" style="width:373.0px"><span class="bl">More than <b>5,170 events</b></span></div></div>
<div class="row" style="top:113.2px"><span class="cn">Brazil</span><div class="bar" style="width:309.0px"><span class="bl">More than <b>4,280 events</b></span></div></div>
<div class="row" style="top:145.5px"><span class="cn">Palestine</span><div class="bar" style="width:274.5px"><span class="bl">More than <b>3,810 events</b></span></div></div>
<div class="row" style="top:177.7px"><span class="cn">Syria</span><div class="bar" style="width:198.5px"><span class="bl">More than <b>2,750 events</b></span></div></div>
<div class="row" style="top:210.0px"><span class="cn">Myanmar</span><div class="bar" style="width:182.5px"><span class="bl">More than <b>2,530 events</b></span></div></div>
<div class="row" style="top:242.3px"><span class="cn">Ukraine</span><div class="bar" style="width:155.8px"><span class="bl">More than <b>2,160 events</b></span></div></div>
<div class="row" style="top:274.6px"><span class="cn">Nigeria</span><div class="bar" style="width:147.2px"><span class="bl">More than <b>2,000 events</b></span></div></div>
<div class="row" style="top:306.9px"><span class="cn">India</span><div class="bar" style="width:131.0px"><span class="bl">More than <b>1,800 events</b></span></div></div>
<div class="row" style="top:339.1px"><span class="cn">Colombia</span><div class="bar" style="width:129.7px"><span class="bl">More than <b>1,790 events</b></span></div></div>
<div class="row" style="top:371.4px"><span class="cn">Yemen</span><div class="bar sm" style="width:81.0px"><span class="bl">More than <b>1,120 events</b></span></div></div>
 </div>
 <div class="hd" style="top:522px"><svg style="left:10px;top:27px" width="15" height="15" viewBox="0 0 15 15"><path d="M7.5 0V15M0 7.5H15" stroke="#111" stroke-width="1.1" fill="none"/></svg>
 <p><span style="letter-spacing:.108px">Nuevo Le&oacute;n, Guanajuato, and Michoac&aacute;n accounted</span><br><span style="letter-spacing:.085px">for 28% of gang violence recorded in 2023</span></p></div>
</div>
</body></html>
